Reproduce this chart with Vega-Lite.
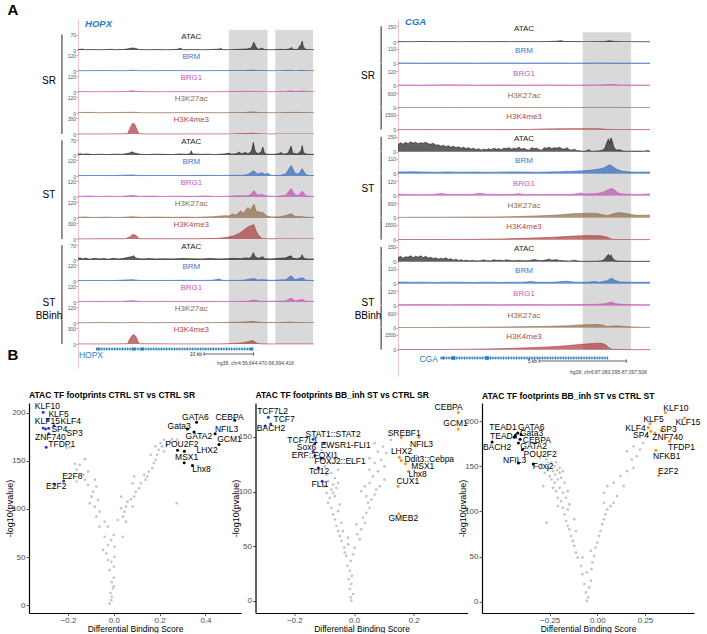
{
"$schema":"https://vega.github.io/schema/vega-lite/v6.json",
"background":"white",
"padding":{"top":3,"left":5,"right":2,"bottom":0},
"config":{
 "view":{"stroke":null},
 "font":"Liberation Sans",
 "axisY":{"labelFontSize":5,"labelColor":"#555555","tickSize":2,"tickColor":"#777777","tickWidth":0.6,"domainColor":"#f3c4c4","domainWidth":1,"grid":false,"labelPadding":0.5,"labelFlush":false,"format":"d"},
 "axisX":{"labelColor":"#4d4d4d","labelFontSize":8,"titleFontSize":8.5,"titleFontWeight":"normal","titleColor":"#000000","titlePadding":0,"domainColor":"#000000","domainWidth":1.2,"tickColor":"#333333","tickSize":2.5,"tickWidth":0.8,"labelPadding":0.5,"grid":false,"labelFlush":false}
},
"datasets":{
 "hl1":[{"s":63.9,"e":80.3},{"s":83.6,"e":99.6}],
 "hl2":[{"s":73.3,"e":92.5}],
 "hopx":[
{"t":"SA","x":0,"v":2},{"t":"SA","x":2,"v":4},{"t":"SA","x":3,"v":1},{"t":"SA","x":6,"v":2},{"t":"SA","x":10,"v":1},{"t":"SA","x":14,"v":3},{"t":"SA","x":16,"v":1},{"t":"SA","x":20,"v":3},{"t":"SA","x":22,"v":7},{"t":"SA","x":23,"v":9},{"t":"SA","x":24,"v":8},{"t":"SA","x":25,"v":5},{"t":"SA","x":26,"v":2},{"t":"SA","x":30,"v":1},{"t":"SA","x":34,"v":2},{"t":"SA","x":38,"v":1},{"t":"SA","x":42,"v":3},{"t":"SA","x":43.5,"v":8},{"t":"SA","x":44.5,"v":1},{"t":"SA","x":48,"v":2},{"t":"SA","x":52,"v":1},{"t":"SA","x":56,"v":2},{"t":"SA","x":60,"v":4},{"t":"SA","x":60.5,"v":9},{"t":"SA","x":61,"v":2},{"t":"SA","x":64,"v":1},{"t":"SA","x":68,"v":3},{"t":"SA","x":72,"v":5},{"t":"SA","x":73.5,"v":10},{"t":"SA","x":74.5,"v":35},{"t":"SA","x":75.5,"v":12},{"t":"SA","x":76.5,"v":3},{"t":"SA","x":78,"v":8},{"t":"SA","x":79,"v":2},{"t":"SA","x":82,"v":1},{"t":"SA","x":86,"v":3},{"t":"SA","x":88,"v":2},{"t":"SA","x":90,"v":6},{"t":"SA","x":90.5,"v":12},{"t":"SA","x":91,"v":3},{"t":"SA","x":93,"v":2},{"t":"SA","x":94.5,"v":25},{"t":"SA","x":95,"v":40},{"t":"SA","x":95.5,"v":15},{"t":"SA","x":96.5,"v":2},{"t":"SA","x":100,"v":1},
{"t":"SM","x":0,"v":2},{"t":"SM","x":10,"v":3},{"t":"SM","x":20,"v":2},{"t":"SM","x":23,"v":6},{"t":"SM","x":26,"v":2},{"t":"SM","x":40,"v":3},{"t":"SM","x":50,"v":2},{"t":"SM","x":60,"v":3},{"t":"SM","x":70,"v":3},{"t":"SM","x":74,"v":7},{"t":"SM","x":76,"v":3},{"t":"SM","x":85,"v":2},{"t":"SM","x":90,"v":6},{"t":"SM","x":92,"v":2},{"t":"SM","x":95,"v":5},{"t":"SM","x":97,"v":2},{"t":"SM","x":100,"v":2},
{"t":"SG","x":0,"v":3},{"t":"SG","x":10,"v":2},{"t":"SG","x":20,"v":3},{"t":"SG","x":23,"v":9},{"t":"SG","x":26,"v":3},{"t":"SG","x":35,"v":2},{"t":"SG","x":45,"v":3},{"t":"SG","x":55,"v":2},{"t":"SG","x":65,"v":3},{"t":"SG","x":74,"v":5},{"t":"SG","x":80,"v":2},{"t":"SG","x":88,"v":3},{"t":"SG","x":90,"v":9},{"t":"SG","x":92,"v":3},{"t":"SG","x":95,"v":8},{"t":"SG","x":97,"v":3},{"t":"SG","x":100,"v":2},
{"t":"SK","x":0,"v":2},{"t":"SK","x":4,"v":5},{"t":"SK","x":8,"v":2},{"t":"SK","x":15,"v":3},{"t":"SK","x":23,"v":6},{"t":"SK","x":27,"v":2},{"t":"SK","x":40,"v":2},{"t":"SK","x":50,"v":3},{"t":"SK","x":60,"v":2},{"t":"SK","x":70,"v":3},{"t":"SK","x":73,"v":8},{"t":"SK","x":75,"v":8},{"t":"SK","x":77,"v":3},{"t":"SK","x":85,"v":2},{"t":"SK","x":91,"v":5},{"t":"SK","x":95,"v":4},{"t":"SK","x":100,"v":2},
{"t":"SH","x":0,"v":1},{"t":"SH","x":15,"v":2},{"t":"SH","x":21,"v":5},{"t":"SH","x":22,"v":100},{"t":"SH","x":23,"v":200},{"t":"SH","x":24,"v":190},{"t":"SH","x":25,"v":80},{"t":"SH","x":25.8,"v":5},{"t":"SH","x":30,"v":1},{"t":"SH","x":50,"v":2},{"t":"SH","x":65,"v":2},{"t":"SH","x":70,"v":8},{"t":"SH","x":74,"v":14},{"t":"SH","x":77,"v":4},{"t":"SH","x":80,"v":1},{"t":"SH","x":100,"v":1},
{"t":"TA","x":0,"v":4},{"t":"TA","x":1,"v":6},{"t":"TA","x":2,"v":3},{"t":"TA","x":4,"v":5},{"t":"TA","x":6,"v":2},{"t":"TA","x":9,"v":4},{"t":"TA","x":12,"v":2},{"t":"TA","x":16,"v":4},{"t":"TA","x":19,"v":3},{"t":"TA","x":22,"v":10},{"t":"TA","x":23,"v":15},{"t":"TA","x":24,"v":9},{"t":"TA","x":26,"v":4},{"t":"TA","x":29,"v":2},{"t":"TA","x":33,"v":4},{"t":"TA","x":37,"v":3},{"t":"TA","x":40,"v":2},{"t":"TA","x":43,"v":5},{"t":"TA","x":46,"v":3},{"t":"TA","x":47.5,"v":6},{"t":"TA","x":48,"v":20},{"t":"TA","x":48.5,"v":5},{"t":"TA","x":52,"v":3},{"t":"TA","x":55,"v":4},{"t":"TA","x":58,"v":2},{"t":"TA","x":62,"v":5},{"t":"TA","x":64,"v":8},{"t":"TA","x":65,"v":4},{"t":"TA","x":67,"v":6},{"t":"TA","x":68.5,"v":14},{"t":"TA","x":69,"v":5},{"t":"TA","x":71,"v":12},{"t":"TA","x":72,"v":5},{"t":"TA","x":73.5,"v":18},{"t":"TA","x":74.3,"v":60},{"t":"TA","x":75,"v":20},{"t":"TA","x":76,"v":6},{"t":"TA","x":77.5,"v":12},{"t":"TA","x":78.3,"v":38},{"t":"TA","x":79,"v":8},{"t":"TA","x":80,"v":4},{"t":"TA","x":83,"v":3},{"t":"TA","x":85,"v":6},{"t":"TA","x":86,"v":12},{"t":"TA","x":87,"v":4},{"t":"TA","x":89,"v":8},{"t":"TA","x":90.3,"v":42},{"t":"TA","x":91,"v":8},{"t":"TA","x":93,"v":5},{"t":"TA","x":94.5,"v":20},{"t":"TA","x":95,"v":45},{"t":"TA","x":95.6,"v":10},{"t":"TA","x":97,"v":4},{"t":"TA","x":100,"v":2},
{"t":"TM","x":0,"v":3},{"t":"TM","x":10,"v":4},{"t":"TM","x":15,"v":3},{"t":"TM","x":23,"v":8},{"t":"TM","x":26,"v":3},{"t":"TM","x":35,"v":4},{"t":"TM","x":45,"v":3},{"t":"TM","x":52,"v":5},{"t":"TM","x":60,"v":4},{"t":"TM","x":66,"v":6},{"t":"TM","x":70,"v":5},{"t":"TM","x":72,"v":12},{"t":"TM","x":74.5,"v":40},{"t":"TM","x":76,"v":15},{"t":"TM","x":78,"v":25},{"t":"TM","x":79,"v":12},{"t":"TM","x":80.5,"v":20},{"t":"TM","x":82,"v":4},{"t":"TM","x":86,"v":5},{"t":"TM","x":88,"v":15},{"t":"TM","x":90.3,"v":80},{"t":"TM","x":92,"v":20},{"t":"TM","x":93.5,"v":15},{"t":"TM","x":95,"v":55},{"t":"TM","x":96.5,"v":10},{"t":"TM","x":98,"v":4},{"t":"TM","x":100,"v":3},
{"t":"TG","x":0,"v":4},{"t":"TG","x":5,"v":8},{"t":"TG","x":8,"v":4},{"t":"TG","x":14,"v":6},{"t":"TG","x":18,"v":4},{"t":"TG","x":23,"v":12},{"t":"TG","x":26,"v":5},{"t":"TG","x":32,"v":7},{"t":"TG","x":36,"v":4},{"t":"TG","x":42,"v":6},{"t":"TG","x":48,"v":5},{"t":"TG","x":54,"v":8},{"t":"TG","x":58,"v":4},{"t":"TG","x":64,"v":6},{"t":"TG","x":68,"v":10},{"t":"TG","x":71,"v":8},{"t":"TG","x":73,"v":15},{"t":"TG","x":74.5,"v":48},{"t":"TG","x":76,"v":15},{"t":"TG","x":78,"v":18},{"t":"TG","x":80,"v":8},{"t":"TG","x":84,"v":5},{"t":"TG","x":88,"v":12},{"t":"TG","x":90.3,"v":65},{"t":"TG","x":92,"v":15},{"t":"TG","x":93.5,"v":12},{"t":"TG","x":95,"v":45},{"t":"TG","x":96.5,"v":10},{"t":"TG","x":98,"v":5},{"t":"TG","x":100,"v":4},
{"t":"TK","x":0,"v":5},{"t":"TK","x":3,"v":8},{"t":"TK","x":6,"v":4},{"t":"TK","x":12,"v":6},{"t":"TK","x":17,"v":4},{"t":"TK","x":23,"v":9},{"t":"TK","x":27,"v":5},{"t":"TK","x":33,"v":7},{"t":"TK","x":40,"v":5},{"t":"TK","x":46,"v":7},{"t":"TK","x":50,"v":5},{"t":"TK","x":54,"v":8},{"t":"TK","x":57,"v":10},{"t":"TK","x":60,"v":14},{"t":"TK","x":62.5,"v":18},{"t":"TK","x":64,"v":15},{"t":"TK","x":65.5,"v":30},{"t":"TK","x":67,"v":22},{"t":"TK","x":69,"v":55},{"t":"TK","x":70,"v":35},{"t":"TK","x":72,"v":80},{"t":"TK","x":73,"v":60},{"t":"TK","x":74.6,"v":105},{"t":"TK","x":75.5,"v":50},{"t":"TK","x":77,"v":45},{"t":"TK","x":78.5,"v":40},{"t":"TK","x":80,"v":15},{"t":"TK","x":82,"v":8},{"t":"TK","x":86,"v":10},{"t":"TK","x":88,"v":20},{"t":"TK","x":90.3,"v":32},{"t":"TK","x":92,"v":12},{"t":"TK","x":95,"v":10},{"t":"TK","x":97,"v":5},{"t":"TK","x":100,"v":4},
{"t":"TH","x":0,"v":2},{"t":"TH","x":10,"v":3},{"t":"TH","x":20,"v":4},{"t":"TH","x":22,"v":40},{"t":"TH","x":23,"v":85},{"t":"TH","x":24.5,"v":70},{"t":"TH","x":26,"v":5},{"t":"TH","x":35,"v":3},{"t":"TH","x":50,"v":4},{"t":"TH","x":55,"v":8},{"t":"TH","x":60,"v":15},{"t":"TH","x":63,"v":30},{"t":"TH","x":66,"v":60},{"t":"TH","x":68,"v":100},{"t":"TH","x":70,"v":160},{"t":"TH","x":72,"v":230},{"t":"TH","x":74.5,"v":275},{"t":"TH","x":75.5,"v":150},{"t":"TH","x":76.5,"v":70},{"t":"TH","x":78,"v":10},{"t":"TH","x":80,"v":3},{"t":"TH","x":100,"v":2},
{"t":"BA","x":0,"v":8},{"t":"BA","x":1,"v":10},{"t":"BA","x":2,"v":5},{"t":"BA","x":3,"v":9},{"t":"BA","x":5,"v":4},{"t":"BA","x":7,"v":8},{"t":"BA","x":9,"v":5},{"t":"BA","x":11,"v":7},{"t":"BA","x":13,"v":4},{"t":"BA","x":15,"v":8},{"t":"BA","x":17,"v":5},{"t":"BA","x":19,"v":7},{"t":"BA","x":21,"v":12},{"t":"BA","x":22.5,"v":15},{"t":"BA","x":23.5,"v":20},{"t":"BA","x":24.5,"v":10},{"t":"BA","x":26,"v":6},{"t":"BA","x":28,"v":5},{"t":"BA","x":30,"v":7},{"t":"BA","x":33,"v":5},{"t":"BA","x":36,"v":6},{"t":"BA","x":40,"v":5},{"t":"BA","x":44,"v":7},{"t":"BA","x":48,"v":6},{"t":"BA","x":52,"v":5},{"t":"BA","x":56,"v":7},{"t":"BA","x":60,"v":5},{"t":"BA","x":63,"v":6},{"t":"BA","x":66,"v":8},{"t":"BA","x":69,"v":6},{"t":"BA","x":71,"v":10},{"t":"BA","x":72.5,"v":8},{"t":"BA","x":73.5,"v":15},{"t":"BA","x":74.3,"v":35},{"t":"BA","x":75,"v":15},{"t":"BA","x":76.5,"v":8},{"t":"BA","x":77.5,"v":12},{"t":"BA","x":78.3,"v":16},{"t":"BA","x":79,"v":6},{"t":"BA","x":82,"v":5},{"t":"BA","x":85,"v":8},{"t":"BA","x":88,"v":10},{"t":"BA","x":89,"v":15},{"t":"BA","x":90.3,"v":20},{"t":"BA","x":91,"v":8},{"t":"BA","x":93,"v":6},{"t":"BA","x":94.5,"v":12},{"t":"BA","x":95,"v":25},{"t":"BA","x":95.6,"v":8},{"t":"BA","x":97,"v":5},{"t":"BA","x":100,"v":4},
{"t":"BM","x":0,"v":3},{"t":"BM","x":8,"v":4},{"t":"BM","x":14,"v":3},{"t":"BM","x":23,"v":10},{"t":"BM","x":27,"v":3},{"t":"BM","x":35,"v":4},{"t":"BM","x":45,"v":5},{"t":"BM","x":52,"v":4},{"t":"BM","x":57,"v":6},{"t":"BM","x":60,"v":15},{"t":"BM","x":61,"v":5},{"t":"BM","x":66,"v":4},{"t":"BM","x":70,"v":6},{"t":"BM","x":74.5,"v":20},{"t":"BM","x":76,"v":8},{"t":"BM","x":78,"v":10},{"t":"BM","x":82,"v":5},{"t":"BM","x":88,"v":10},{"t":"BM","x":90.3,"v":40},{"t":"BM","x":92,"v":10},{"t":"BM","x":95,"v":25},{"t":"BM","x":96.5,"v":6},{"t":"BM","x":100,"v":3},
{"t":"BG","x":0,"v":4},{"t":"BG","x":10,"v":5},{"t":"BG","x":18,"v":4},{"t":"BG","x":23,"v":10},{"t":"BG","x":27,"v":4},{"t":"BG","x":35,"v":5},{"t":"BG","x":45,"v":4},{"t":"BG","x":55,"v":5},{"t":"BG","x":65,"v":4},{"t":"BG","x":72,"v":6},{"t":"BG","x":74.5,"v":15},{"t":"BG","x":77,"v":6},{"t":"BG","x":82,"v":5},{"t":"BG","x":88,"v":8},{"t":"BG","x":90.3,"v":30},{"t":"BG","x":92,"v":8},{"t":"BG","x":95,"v":20},{"t":"BG","x":96.5,"v":6},{"t":"BG","x":100,"v":4},
{"t":"BK","x":0,"v":2},{"t":"BK","x":10,"v":3},{"t":"BK","x":20,"v":2},{"t":"BK","x":23,"v":4},{"t":"BK","x":30,"v":2},{"t":"BK","x":40,"v":3},{"t":"BK","x":50,"v":2},{"t":"BK","x":60,"v":3},{"t":"BK","x":66,"v":5},{"t":"BK","x":70,"v":8},{"t":"BK","x":72,"v":10},{"t":"BK","x":74,"v":13},{"t":"BK","x":76,"v":8},{"t":"BK","x":78,"v":4},{"t":"BK","x":85,"v":3},{"t":"BK","x":88,"v":5},{"t":"BK","x":90,"v":8},{"t":"BK","x":92,"v":4},{"t":"BK","x":95,"v":3},{"t":"BK","x":100,"v":2},
{"t":"BH","x":0,"v":1},{"t":"BH","x":15,"v":2},{"t":"BH","x":21,"v":5},{"t":"BH","x":22,"v":100},{"t":"BH","x":23.3,"v":180},{"t":"BH","x":24.5,"v":150},{"t":"BH","x":25.5,"v":40},{"t":"BH","x":26,"v":5},{"t":"BH","x":40,"v":2},{"t":"BH","x":60,"v":2},{"t":"BH","x":66,"v":8},{"t":"BH","x":69,"v":20},{"t":"BH","x":71,"v":35},{"t":"BH","x":73,"v":55},{"t":"BH","x":74,"v":67},{"t":"BH","x":75,"v":40},{"t":"BH","x":76,"v":8},{"t":"BH","x":78,"v":2},{"t":"BH","x":100,"v":1}
 ],
 "cga":[
{"t":"SA","x":0,"v":4},{"t":"SA","x":5,"v":3},{"t":"SA","x":10,"v":5},{"t":"SA","x":15,"v":3},{"t":"SA","x":20,"v":4},{"t":"SA","x":25,"v":3},{"t":"SA","x":30,"v":4},{"t":"SA","x":35,"v":3},{"t":"SA","x":40,"v":4},{"t":"SA","x":45,"v":3},{"t":"SA","x":50,"v":4},{"t":"SA","x":55,"v":3},{"t":"SA","x":60,"v":5},{"t":"SA","x":63,"v":8},{"t":"SA","x":64.7,"v":12},{"t":"SA","x":66,"v":5},{"t":"SA","x":70,"v":4},{"t":"SA","x":74,"v":2},{"t":"SA","x":78,"v":3},{"t":"SA","x":82,"v":5},{"t":"SA","x":84,"v":12},{"t":"SA","x":86,"v":4},{"t":"SA","x":90,"v":2},{"t":"SA","x":95,"v":3},{"t":"SA","x":100,"v":2},
{"t":"SM","x":0,"v":5},{"t":"SM","x":10,"v":4},{"t":"SM","x":20,"v":5},{"t":"SM","x":30,"v":4},{"t":"SM","x":40,"v":5},{"t":"SM","x":50,"v":4},{"t":"SM","x":60,"v":5},{"t":"SM","x":70,"v":4},{"t":"SM","x":80,"v":5},{"t":"SM","x":90,"v":4},{"t":"SM","x":100,"v":4},
{"t":"SG","x":0,"v":6},{"t":"SG","x":10,"v":5},{"t":"SG","x":20,"v":7},{"t":"SG","x":30,"v":5},{"t":"SG","x":40,"v":6},{"t":"SG","x":50,"v":5},{"t":"SG","x":60,"v":6},{"t":"SG","x":70,"v":5},{"t":"SG","x":80,"v":6},{"t":"SG","x":84,"v":10},{"t":"SG","x":88,"v":6},{"t":"SG","x":100,"v":5},
{"t":"SK","x":0,"v":5},{"t":"SK","x":10,"v":8},{"t":"SK","x":20,"v":5},{"t":"SK","x":30,"v":6},{"t":"SK","x":40,"v":8},{"t":"SK","x":50,"v":5},{"t":"SK","x":60,"v":6},{"t":"SK","x":70,"v":5},{"t":"SK","x":80,"v":10},{"t":"SK","x":90,"v":5},{"t":"SK","x":100,"v":4},
{"t":"SH","x":0,"v":3},{"t":"SH","x":45,"v":5},{"t":"SH","x":52,"v":20},{"t":"SH","x":58,"v":70},{"t":"SH","x":65,"v":90},{"t":"SH","x":72,"v":100},{"t":"SH","x":80,"v":95},{"t":"SH","x":83,"v":30},{"t":"SH","x":86,"v":5},{"t":"SH","x":100,"v":3},
{"t":"TA","x":0,"v":70},{"t":"TA","x":1,"v":90},{"t":"TA","x":2,"v":75},{"t":"TA","x":3,"v":95},{"t":"TA","x":4,"v":80},{"t":"TA","x":5,"v":100},{"t":"TA","x":6,"v":85},{"t":"TA","x":7,"v":95},{"t":"TA","x":8,"v":80},{"t":"TA","x":9,"v":90},{"t":"TA","x":10,"v":85},{"t":"TA","x":11,"v":95},{"t":"TA","x":12,"v":80},{"t":"TA","x":13,"v":75},{"t":"TA","x":14,"v":85},{"t":"TA","x":15,"v":65},{"t":"TA","x":16,"v":70},{"t":"TA","x":17,"v":55},{"t":"TA","x":18,"v":65},{"t":"TA","x":19,"v":50},{"t":"TA","x":20,"v":60},{"t":"TA","x":21,"v":45},{"t":"TA","x":22,"v":55},{"t":"TA","x":23,"v":40},{"t":"TA","x":24,"v":50},{"t":"TA","x":25,"v":35},{"t":"TA","x":26,"v":45},{"t":"TA","x":27,"v":30},{"t":"TA","x":28,"v":40},{"t":"TA","x":29,"v":25},{"t":"TA","x":30,"v":35},{"t":"TA","x":31,"v":20},{"t":"TA","x":32,"v":30},{"t":"TA","x":33,"v":15},{"t":"TA","x":34,"v":25},{"t":"TA","x":35,"v":18},{"t":"TA","x":36,"v":30},{"t":"TA","x":37,"v":20},{"t":"TA","x":38,"v":35},{"t":"TA","x":39,"v":25},{"t":"TA","x":40,"v":30},{"t":"TA","x":41,"v":20},{"t":"TA","x":42,"v":35},{"t":"TA","x":43,"v":30},{"t":"TA","x":44,"v":40},{"t":"TA","x":45,"v":25},{"t":"TA","x":46,"v":35},{"t":"TA","x":47,"v":30},{"t":"TA","x":48,"v":45},{"t":"TA","x":49,"v":25},{"t":"TA","x":50,"v":35},{"t":"TA","x":51,"v":20},{"t":"TA","x":52,"v":15},{"t":"TA","x":53,"v":40},{"t":"TA","x":54,"v":30},{"t":"TA","x":55,"v":35},{"t":"TA","x":56,"v":20},{"t":"TA","x":57,"v":15},{"t":"TA","x":58,"v":40},{"t":"TA","x":59,"v":35},{"t":"TA","x":60,"v":45},{"t":"TA","x":61,"v":30},{"t":"TA","x":62,"v":40},{"t":"TA","x":63,"v":35},{"t":"TA","x":64,"v":45},{"t":"TA","x":65,"v":30},{"t":"TA","x":66,"v":25},{"t":"TA","x":67,"v":40},{"t":"TA","x":68,"v":20},{"t":"TA","x":69,"v":15},{"t":"TA","x":70,"v":25},{"t":"TA","x":71,"v":10},{"t":"TA","x":72,"v":8},{"t":"TA","x":73,"v":5},{"t":"TA","x":74,"v":3},{"t":"TA","x":76,"v":20},{"t":"TA","x":76.5,"v":3},{"t":"TA","x":78,"v":5},{"t":"TA","x":80,"v":8},{"t":"TA","x":81,"v":15},{"t":"TA","x":82,"v":30},{"t":"TA","x":83,"v":100},{"t":"TA","x":83.5,"v":130},{"t":"TA","x":84,"v":90},{"t":"TA","x":84.5,"v":140},{"t":"TA","x":85,"v":110},{"t":"TA","x":85.5,"v":60},{"t":"TA","x":86,"v":30},{"t":"TA","x":87,"v":15},{"t":"TA","x":88,"v":20},{"t":"TA","x":89,"v":8},{"t":"TA","x":90,"v":5},{"t":"TA","x":92,"v":4},{"t":"TA","x":95,"v":6},{"t":"TA","x":98,"v":5},{"t":"TA","x":99,"v":12},{"t":"TA","x":100,"v":4},
{"t":"TM","x":0,"v":12},{"t":"TM","x":5,"v":14},{"t":"TM","x":10,"v":12},{"t":"TM","x":15,"v":10},{"t":"TM","x":20,"v":13},{"t":"TM","x":25,"v":10},{"t":"TM","x":30,"v":12},{"t":"TM","x":35,"v":10},{"t":"TM","x":40,"v":11},{"t":"TM","x":45,"v":13},{"t":"TM","x":50,"v":12},{"t":"TM","x":55,"v":10},{"t":"TM","x":60,"v":12},{"t":"TM","x":65,"v":14},{"t":"TM","x":70,"v":18},{"t":"TM","x":74,"v":22},{"t":"TM","x":78,"v":28},{"t":"TM","x":81,"v":38},{"t":"TM","x":83,"v":55},{"t":"TM","x":84,"v":66},{"t":"TM","x":85,"v":55},{"t":"TM","x":87,"v":30},{"t":"TM","x":89,"v":18},{"t":"TM","x":92,"v":12},{"t":"TM","x":95,"v":11},{"t":"TM","x":100,"v":12},
{"t":"TG","x":0,"v":12},{"t":"TG","x":5,"v":10},{"t":"TG","x":10,"v":8},{"t":"TG","x":14,"v":10},{"t":"TG","x":17,"v":18},{"t":"TG","x":20,"v":10},{"t":"TG","x":25,"v":9},{"t":"TG","x":30,"v":12},{"t":"TG","x":32.6,"v":20},{"t":"TG","x":35,"v":12},{"t":"TG","x":40,"v":9},{"t":"TG","x":45,"v":10},{"t":"TG","x":48,"v":16},{"t":"TG","x":50,"v":10},{"t":"TG","x":55,"v":9},{"t":"TG","x":60,"v":10},{"t":"TG","x":65,"v":9},{"t":"TG","x":70,"v":12},{"t":"TG","x":72.5,"v":22},{"t":"TG","x":74,"v":14},{"t":"TG","x":78,"v":15},{"t":"TG","x":81,"v":25},{"t":"TG","x":83,"v":45},{"t":"TG","x":84.7,"v":60},{"t":"TG","x":86,"v":45},{"t":"TG","x":87.5,"v":20},{"t":"TG","x":90,"v":12},{"t":"TG","x":95,"v":10},{"t":"TG","x":100,"v":14},
{"t":"TK","x":0,"v":10},{"t":"TK","x":10,"v":15},{"t":"TK","x":20,"v":20},{"t":"TK","x":30,"v":25},{"t":"TK","x":40,"v":30},{"t":"TK","x":45,"v":40},{"t":"TK","x":50,"v":55},{"t":"TK","x":55,"v":70},{"t":"TK","x":60,"v":90},{"t":"TK","x":65,"v":120},{"t":"TK","x":68,"v":150},{"t":"TK","x":70,"v":165},{"t":"TK","x":73,"v":175},{"t":"TK","x":76,"v":185},{"t":"TK","x":79,"v":175},{"t":"TK","x":81,"v":120},{"t":"TK","x":83,"v":80},{"t":"TK","x":85,"v":150},{"t":"TK","x":87.5,"v":210},{"t":"TK","x":90,"v":180},{"t":"TK","x":93,"v":120},{"t":"TK","x":95,"v":95},{"t":"TK","x":100,"v":100},
{"t":"TH","x":0,"v":10},{"t":"TH","x":20,"v":15},{"t":"TH","x":30,"v":30},{"t":"TH","x":40,"v":60},{"t":"TH","x":50,"v":130},{"t":"TH","x":60,"v":220},{"t":"TH","x":65,"v":290},{"t":"TH","x":70,"v":360},{"t":"TH","x":73,"v":390},{"t":"TH","x":76,"v":410},{"t":"TH","x":79,"v":400},{"t":"TH","x":81,"v":370},{"t":"TH","x":83,"v":250},{"t":"TH","x":84.5,"v":60},{"t":"TH","x":86,"v":15},{"t":"TH","x":90,"v":5},{"t":"TH","x":100,"v":5},
{"t":"BA","x":0,"v":40},{"t":"BA","x":1,"v":55},{"t":"BA","x":2,"v":35},{"t":"BA","x":3,"v":50},{"t":"BA","x":4,"v":45},{"t":"BA","x":5,"v":60},{"t":"BA","x":6,"v":40},{"t":"BA","x":7,"v":55},{"t":"BA","x":8,"v":45},{"t":"BA","x":9,"v":60},{"t":"BA","x":10,"v":40},{"t":"BA","x":11,"v":55},{"t":"BA","x":12,"v":35},{"t":"BA","x":13,"v":45},{"t":"BA","x":14,"v":30},{"t":"BA","x":15,"v":40},{"t":"BA","x":16,"v":25},{"t":"BA","x":17,"v":35},{"t":"BA","x":18,"v":28},{"t":"BA","x":19,"v":40},{"t":"BA","x":20,"v":22},{"t":"BA","x":21,"v":30},{"t":"BA","x":22,"v":15},{"t":"BA","x":23,"v":25},{"t":"BA","x":24,"v":12},{"t":"BA","x":25,"v":18},{"t":"BA","x":26,"v":10},{"t":"BA","x":27,"v":15},{"t":"BA","x":28,"v":8},{"t":"BA","x":30,"v":12},{"t":"BA","x":31,"v":6},{"t":"BA","x":33,"v":10},{"t":"BA","x":34,"v":18},{"t":"BA","x":35,"v":10},{"t":"BA","x":37,"v":8},{"t":"BA","x":38,"v":20},{"t":"BA","x":39,"v":12},{"t":"BA","x":40,"v":15},{"t":"BA","x":42,"v":10},{"t":"BA","x":43,"v":20},{"t":"BA","x":44,"v":12},{"t":"BA","x":46,"v":8},{"t":"BA","x":48,"v":12},{"t":"BA","x":50,"v":8},{"t":"BA","x":52,"v":10},{"t":"BA","x":54,"v":22},{"t":"BA","x":55,"v":15},{"t":"BA","x":57,"v":10},{"t":"BA","x":59,"v":18},{"t":"BA","x":60,"v":25},{"t":"BA","x":61,"v":15},{"t":"BA","x":63,"v":20},{"t":"BA","x":64,"v":12},{"t":"BA","x":66,"v":8},{"t":"BA","x":68,"v":5},{"t":"BA","x":70,"v":15},{"t":"BA","x":71,"v":8},{"t":"BA","x":72,"v":4},{"t":"BA","x":74,"v":3},{"t":"BA","x":78,"v":4},{"t":"BA","x":80,"v":6},{"t":"BA","x":81,"v":10},{"t":"BA","x":82,"v":25},{"t":"BA","x":83,"v":60},{"t":"BA","x":83.5,"v":75},{"t":"BA","x":84,"v":50},{"t":"BA","x":84.5,"v":70},{"t":"BA","x":85,"v":40},{"t":"BA","x":86,"v":15},{"t":"BA","x":87,"v":6},{"t":"BA","x":90,"v":4},{"t":"BA","x":95,"v":3},{"t":"BA","x":100,"v":4},
{"t":"BM","x":0,"v":12},{"t":"BM","x":5,"v":10},{"t":"BM","x":10,"v":11},{"t":"BM","x":15,"v":9},{"t":"BM","x":20,"v":11},{"t":"BM","x":25,"v":10},{"t":"BM","x":30,"v":9},{"t":"BM","x":35,"v":11},{"t":"BM","x":40,"v":9},{"t":"BM","x":45,"v":10},{"t":"BM","x":50,"v":11},{"t":"BM","x":53,"v":16},{"t":"BM","x":55,"v":10},{"t":"BM","x":60,"v":10},{"t":"BM","x":63,"v":12},{"t":"BM","x":67,"v":18},{"t":"BM","x":70,"v":11},{"t":"BM","x":75,"v":10},{"t":"BM","x":78,"v":15},{"t":"BM","x":80,"v":10},{"t":"BM","x":83,"v":22},{"t":"BM","x":84.7,"v":40},{"t":"BM","x":86,"v":25},{"t":"BM","x":88,"v":12},{"t":"BM","x":92,"v":10},{"t":"BM","x":100,"v":10},
{"t":"BG","x":0,"v":8},{"t":"BG","x":10,"v":10},{"t":"BG","x":20,"v":8},{"t":"BG","x":30,"v":10},{"t":"BG","x":40,"v":8},{"t":"BG","x":50,"v":9},{"t":"BG","x":60,"v":8},{"t":"BG","x":70,"v":9},{"t":"BG","x":78,"v":10},{"t":"BG","x":82,"v":15},{"t":"BG","x":84.7,"v":30},{"t":"BG","x":86.5,"v":15},{"t":"BG","x":90,"v":9},{"t":"BG","x":100,"v":8},
{"t":"BK","x":0,"v":5},{"t":"BK","x":10,"v":8},{"t":"BK","x":20,"v":12},{"t":"BK","x":30,"v":15},{"t":"BK","x":40,"v":25},{"t":"BK","x":50,"v":40},{"t":"BK","x":60,"v":55},{"t":"BK","x":68,"v":80},{"t":"BK","x":72,"v":110},{"t":"BK","x":76,"v":125},{"t":"BK","x":79,"v":130},{"t":"BK","x":81,"v":110},{"t":"BK","x":83,"v":45},{"t":"BK","x":85,"v":70},{"t":"BK","x":87,"v":75},{"t":"BK","x":90,"v":50},{"t":"BK","x":93,"v":25},{"t":"BK","x":96,"v":15},{"t":"BK","x":100,"v":10},
{"t":"BH","x":0,"v":5},{"t":"BH","x":20,"v":20},{"t":"BH","x":30,"v":45},{"t":"BH","x":40,"v":90},{"t":"BH","x":50,"v":170},{"t":"BH","x":60,"v":280},{"t":"BH","x":67,"v":400},{"t":"BH","x":72,"v":520},{"t":"BH","x":76,"v":600},{"t":"BH","x":79,"v":650},{"t":"BH","x":81,"v":640},{"t":"BH","x":82.5,"v":480},{"t":"BH","x":84,"v":120},{"t":"BH","x":85.5,"v":15},{"t":"BH","x":90,"v":5},{"t":"BH","x":100,"v":3}
 ],
 "v1":[
{"x":-0.019,"y":1.7,"g":"ns"},{"x":-0.011,"y":5.2,"g":"ns"},{"x":-0.009,"y":8.7,"g":"ns"},{"x":-0.014,"y":12.8,"g":"ns"},{"x":-0.004,"y":17.4,"g":"ns"},{"x":0.0,"y":19.8,"g":"ns"},{"x":-0.009,"y":24.3,"g":"ns"},{"x":0.0,"y":28.8,"g":"ns"},{"x":-0.019,"y":36.5,"g":"ns"},{"x":0.0,"y":39.9,"g":"ns"},{"x":-0.011,"y":45.1,"g":"ns"},{"x":-0.026,"y":46.9,"g":"ns"},{"x":0.003,"y":50.3,"g":"ns"},{"x":-0.033,"y":53.8,"g":"ns"},{"x":-0.047,"y":57.3,"g":"ns"},{"x":-0.026,"y":62.5,"g":"ns"},{"x":-0.011,"y":67.7,"g":"ns"},{"x":-0.04,"y":71.2,"g":"ns"},{"x":0.0,"y":72.9,"g":"ns"},{"x":-0.026,"y":81.6,"g":"ns"},{"x":-0.062,"y":81.6,"g":"ns"},{"x":-0.04,"y":86.8,"g":"ns"},{"x":0.017,"y":88.5,"g":"ns"},{"x":0.039,"y":92,"g":"ns"},{"x":-0.076,"y":92,"g":"ns"},{"x":-0.062,"y":97.2,"g":"ns"},{"x":0.046,"y":97.2,"g":"ns"},{"x":0.032,"y":100.7,"g":"ns"},{"x":0.053,"y":102.4,"g":"ns"},{"x":-0.083,"y":102.4,"g":"ns"},{"x":-0.105,"y":105.9,"g":"ns"},{"x":-0.069,"y":109.4,"g":"ns"},{"x":0.06,"y":107.6,"g":"ns"},{"x":0.075,"y":110.1,"g":"ns"},{"x":-0.097,"y":112.8,"g":"ns"},{"x":0.089,"y":112.8,"g":"ns"},{"x":0.032,"y":112.8,"g":"ns"},{"x":-0.09,"y":118,"g":"ns"},{"x":-0.076,"y":123.3,"g":"ns"},{"x":0.096,"y":118,"g":"ns"},{"x":0.11,"y":121.5,"g":"ns"},{"x":0.082,"y":126.7,"g":"ns"},{"x":-0.112,"y":125,"g":"ns"},{"x":-0.126,"y":130.2,"g":"ns"},{"x":-0.083,"y":130.2,"g":"ns"},{"x":0.118,"y":126.7,"g":"ns"},{"x":0.089,"y":133.7,"g":"ns"},{"x":0.139,"y":130.2,"g":"ns"},{"x":0.132,"y":135.4,"g":"ns"},{"x":-0.133,"y":135.4,"g":"ns"},{"x":-0.112,"y":138.9,"g":"ns"},{"x":0.153,"y":138.9,"g":"ns"},{"x":0.168,"y":142.4,"g":"ns"},{"x":-0.162,"y":140.6,"g":"ns"},{"x":-0.148,"y":145.8,"g":"ns"},{"x":0.175,"y":147.6,"g":"ns"},{"x":0.182,"y":151,"g":"ns"},{"x":-0.169,"y":146.9,"g":"ns"},{"x":-0.126,"y":151.7,"g":"ns"},{"x":0.189,"y":156.3,"g":"ns"},{"x":0.161,"y":156.3,"g":"ns"},{"x":0.196,"y":161.5,"g":"ns"},{"x":0.211,"y":164.9,"g":"ns"},{"x":0.232,"y":166.7,"g":"ns"},{"x":0.247,"y":170.1,"g":"ns"},{"x":0.218,"y":171.9,"g":"ns"},{"x":0.254,"y":172.6,"g":"ns"},{"x":0.275,"y":171.9,"g":"ns"},{"x":-0.205,"y":163.2,"g":"ns"},{"x":-0.191,"y":163.9,"g":"ns"},{"x":-0.162,"y":128.5,"g":"ns"},{"x":0.039,"y":71.2,"g":"ns"},{"x":0.003,"y":60.8,"g":"ns"},{"x":0.053,"y":86.8,"g":"ns"},{"x":0.082,"y":102.4,"g":"ns"},{"x":0.275,"y":105.9,"g":"ns"},{"x":0.204,"y":168.4,"g":"ns"},{"x":0.146,"y":133.7,"g":"ns"},{"x":0.218,"y":159.7,"g":"ns"},{"x":0.182,"y":164.9,"g":"ns"},
{"x":-0.308,"y":200.5,"g":"blue","lab":"KLF10","lx":-0.29,"ly":206.6},
{"x":-0.287,"y":192.7,"g":"blue","lab":"KLF5","lx":-0.241,"ly":199},
{"x":-0.261,"y":186.5,"g":"blue","lab":"KLF4","lx":-0.188,"ly":191.7},
{"x":-0.308,"y":184,"g":"blue","lab":"KLF15","lx":-0.29,"ly":191},
{"x":-0.284,"y":183.7,"g":"blue","lab":"SP4","lx":-0.237,"ly":183},
{"x":-0.298,"y":183,"g":"blue","lab":"SP3","lx":-0.171,"ly":178.8},
{"x":-0.284,"y":178,"g":"blue","lab":"ZNF740","lx":-0.277,"ly":175},
{"x":-0.295,"y":164,"g":"blue","lab":"TFDP1","lx":-0.227,"ly":167.7},
{"x":-0.219,"y":129,"g":"blue","lab":"E2F8","lx":-0.181,"ly":134.7},
{"x":-0.26,"y":126,"g":"blue","lab":"E2F2","lx":-0.251,"ly":124.3},
{"x":0.361,"y":190,"g":"black","lab":"GATA6","lx":0.356,"ly":195.5},
{"x":0.528,"y":192,"g":"black","lab":"CEBPA","lx":0.505,"ly":195.5},
{"x":0.321,"y":183,"g":"black","lab":"Gata3","lx":0.285,"ly":185.8},
{"x":0.442,"y":178,"g":"black","lab":"NFIL3","lx":0.492,"ly":183},
{"x":0.35,"y":180,"g":"black","lab":"GATA2","lx":0.371,"ly":175.3},
{"x":0.459,"y":167,"g":"black","lab":"GCM1","lx":0.505,"ly":173},
{"x":0.278,"y":161,"g":"black","lab":"POU2F2","lx":0.297,"ly":167.4},
{"x":0.308,"y":160,"g":"black","lab":"LHX2","lx":0.407,"ly":161.5},
{"x":0.307,"y":148,"g":"black","lab":"MSX1","lx":0.318,"ly":153.8},
{"x":0.343,"y":145,"g":"black","lab":"Lhx8","lx":0.383,"ly":141.7}
 ],
 "v2":[
{"x":-0.009,"y":0.3,"g":"ns"},{"x":-0.011,"y":3.3,"g":"ns"},{"x":-0.003,"y":6.4,"g":"ns"},{"x":-0.014,"y":10.9,"g":"ns"},{"x":-0.009,"y":15.5,"g":"ns"},{"x":-0.018,"y":20,"g":"ns"},{"x":-0.007,"y":23,"g":"ns"},{"x":-0.014,"y":27.6,"g":"ns"},{"x":-0.022,"y":32.1,"g":"ns"},{"x":-0.011,"y":36.7,"g":"ns"},{"x":-0.026,"y":41.2,"g":"ns"},{"x":-0.031,"y":44.2,"g":"ns"},{"x":-0.003,"y":42.7,"g":"ns"},{"x":-0.033,"y":48.8,"g":"ns"},{"x":-0.02,"y":51.8,"g":"ns"},{"x":-0.042,"y":54.8,"g":"ns"},{"x":0.019,"y":56.4,"g":"ns"},{"x":0.011,"y":60.9,"g":"ns"},{"x":-0.048,"y":59.4,"g":"ns"},{"x":-0.053,"y":63.9,"g":"ns"},{"x":0.024,"y":65.5,"g":"ns"},{"x":-0.059,"y":68.5,"g":"ns"},{"x":-0.042,"y":71.5,"g":"ns"},{"x":0.036,"y":71.5,"g":"ns"},{"x":0.03,"y":76.1,"g":"ns"},{"x":-0.064,"y":74.5,"g":"ns"},{"x":-0.07,"y":79.1,"g":"ns"},{"x":-0.053,"y":82.1,"g":"ns"},{"x":0.041,"y":80.6,"g":"ns"},{"x":0.052,"y":85.2,"g":"ns"},{"x":-0.076,"y":85.2,"g":"ns"},{"x":-0.048,"y":88.2,"g":"ns"},{"x":-0.087,"y":89.7,"g":"ns"},{"x":0.047,"y":89.7,"g":"ns"},{"x":0.058,"y":92.7,"g":"ns"},{"x":-0.081,"y":94.2,"g":"ns"},{"x":-0.064,"y":95.8,"g":"ns"},{"x":0.041,"y":95.8,"g":"ns"},{"x":0.069,"y":97.3,"g":"ns"},{"x":-0.092,"y":98.8,"g":"ns"},{"x":-0.076,"y":101.8,"g":"ns"},{"x":-0.059,"y":103.3,"g":"ns"},{"x":0.024,"y":100.3,"g":"ns"},{"x":0.074,"y":101.8,"g":"ns"},{"x":-0.098,"y":104.8,"g":"ns"},{"x":-0.07,"y":106.4,"g":"ns"},{"x":0.036,"y":104.8,"g":"ns"},{"x":0.086,"y":104.8,"g":"ns"},{"x":0.052,"y":107.9,"g":"ns"},{"x":-0.087,"y":109.4,"g":"ns"},{"x":-0.064,"y":112.4,"g":"ns"},{"x":0.102,"y":110.9,"g":"ns"},{"x":0.063,"y":113.9,"g":"ns"},{"x":-0.092,"y":115.5,"g":"ns"},{"x":-0.076,"y":117,"g":"ns"},{"x":0.08,"y":118.5,"g":"ns"},{"x":0.052,"y":120,"g":"ns"},{"x":-0.053,"y":120,"g":"ns"},{"x":0.102,"y":123,"g":"ns"},{"x":-0.098,"y":123,"g":"ns"},{"x":-0.081,"y":126.1,"g":"ns"},{"x":0.069,"y":126.1,"g":"ns"},{"x":0.091,"y":129.1,"g":"ns"},{"x":-0.103,"y":129.1,"g":"ns"},{"x":0.052,"y":130.6,"g":"ns"},{"x":0.108,"y":135.2,"g":"ns"},{"x":0.08,"y":136.7,"g":"ns"},{"x":-0.087,"y":132.1,"g":"ns"},{"x":0.097,"y":141.2,"g":"ns"},{"x":0.069,"y":144.2,"g":"ns"},{"x":0.124,"y":147.3,"g":"ns"},{"x":-0.109,"y":138.2,"g":"ns"},{"x":-0.07,"y":98.8,"g":"ns"},{"x":0.008,"y":70,"g":"ns"},{"x":-0.02,"y":57.9,"g":"ns"},{"x":0.002,"y":48.8,"g":"ns"},{"x":-0.037,"y":63.9,"g":"ns"},{"x":-0.103,"y":104.8,"g":"ns"},{"x":-0.053,"y":107.9,"g":"ns"},
{"x":-0.287,"y":168,"g":"blue","lab":"TCF7L2","lx":-0.273,"ly":173.6},
{"x":-0.279,"y":161.8,"g":"blue","lab":"TCF7","lx":-0.234,"ly":166},
{"x":-0.298,"y":160,"g":"blue","lab":"BACH2","lx":-0.278,"ly":157.9},
{"x":-0.137,"y":147.9,"g":"blue","lab":"STAT1::STAT2","lx":-0.07,"ly":152.7},
{"x":-0.131,"y":144,"g":"blue","lab":"TCF7L1","lx":-0.172,"ly":147.3},
{"x":-0.1,"y":144.5,"g":"blue","lab":"EWSR1-FLI1","lx":-0.028,"ly":142.7},
{"x":-0.137,"y":136.7,"g":"blue","lab":"Sox6","lx":-0.159,"ly":140.6},
{"x":-0.131,"y":132.7,"g":"blue","lab":"ERF::FOXI1","lx":-0.131,"ly":133.6},
{"x":-0.111,"y":130.6,"g":"blue","lab":"FOXJ2::ELF1","lx":-0.047,"ly":128.2},
{"x":-0.12,"y":121.5,"g":"blue","lab":"Tcf12","lx":-0.117,"ly":119},
{"x":-0.107,"y":109.4,"g":"blue","lab":"FLI1","lx":-0.114,"ly":107.3},
{"x":0.349,"y":172.4,"g":"orange","lab":"CEBPA","lx":0.317,"ly":177.6},
{"x":0.349,"y":157.3,"g":"orange","lab":"GCM1","lx":0.34,"ly":162.4},
{"x":0.158,"y":149.4,"g":"orange","lab":"SREBF1","lx":0.168,"ly":154},
{"x":0.217,"y":149.7,"g":"orange","lab":"NFIL3","lx":0.226,"ly":143.6},
{"x":0.152,"y":131.5,"g":"orange","lab":"LHX2","lx":0.159,"ly":136.7},
{"x":0.158,"y":128.5,"g":"orange","lab":"Ddit3::Cebpa","lx":0.252,"ly":130},
{"x":0.172,"y":125.5,"g":"orange","lab":"MSX1","lx":0.23,"ly":123},
{"x":0.182,"y":118.5,"g":"orange","lab":"Lhx8","lx":0.213,"ly":116.4},
{"x":0.147,"y":104.8,"g":"orange","lab":"CUX1","lx":0.18,"ly":109.4},
{"x":0.15,"y":79.7,"g":"orange","lab":"GMEB2","lx":0.165,"ly":75.5}
 ],
 "v3":[
{"x":-0.055,"y":1,"g":"ns"},{"x":-0.048,"y":4.8,"g":"ns"},{"x":-0.06,"y":10.3,"g":"ns"},{"x":-0.043,"y":15.8,"g":"ns"},{"x":-0.069,"y":19.5,"g":"ns"},{"x":-0.034,"y":23.2,"g":"ns"},{"x":-0.078,"y":30.5,"g":"ns"},{"x":-0.055,"y":32.4,"g":"ns"},{"x":-0.031,"y":36,"g":"ns"},{"x":-0.086,"y":39.7,"g":"ns"},{"x":-0.026,"y":43.4,"g":"ns"},{"x":-0.103,"y":48.9,"g":"ns"},{"x":-0.017,"y":50.7,"g":"ns"},{"x":-0.078,"y":48.9,"g":"ns"},{"x":-0.112,"y":54.4,"g":"ns"},{"x":-0.034,"y":56.3,"g":"ns"},{"x":-0.009,"y":59.9,"g":"ns"},{"x":-0.121,"y":61.8,"g":"ns"},{"x":0.0,"y":65.4,"g":"ns"},{"x":-0.129,"y":67.3,"g":"ns"},{"x":0.009,"y":72.8,"g":"ns"},{"x":-0.138,"y":72.8,"g":"ns"},{"x":0.017,"y":78.3,"g":"ns"},{"x":-0.112,"y":78.3,"g":"ns"},{"x":-0.147,"y":80.1,"g":"ns"},{"x":0.026,"y":85.7,"g":"ns"},{"x":-0.155,"y":83.8,"g":"ns"},{"x":0.034,"y":91.2,"g":"ns"},{"x":-0.164,"y":89.3,"g":"ns"},{"x":-0.121,"y":91.2,"g":"ns"},{"x":0.043,"y":96.7,"g":"ns"},{"x":-0.172,"y":96.7,"g":"ns"},{"x":0.052,"y":102.2,"g":"ns"},{"x":-0.155,"y":102.2,"g":"ns"},{"x":0.069,"y":105.9,"g":"ns"},{"x":-0.181,"y":104,"g":"ns"},{"x":0.086,"y":109.6,"g":"ns"},{"x":-0.147,"y":107.7,"g":"ns"},{"x":-0.19,"y":111.4,"g":"ns"},{"x":0.034,"y":109.6,"g":"ns"},{"x":-0.164,"y":115.1,"g":"ns"},{"x":-0.207,"y":115.1,"g":"ns"},{"x":0.103,"y":116.9,"g":"ns"},{"x":-0.181,"y":120.6,"g":"ns"},{"x":-0.216,"y":122.4,"g":"ns"},{"x":0.034,"y":120.6,"g":"ns"},{"x":-0.155,"y":122.4,"g":"ns"},{"x":-0.198,"y":126.1,"g":"ns"},{"x":-0.233,"y":126.1,"g":"ns"},{"x":0.052,"y":127.9,"g":"ns"},{"x":0.138,"y":127.9,"g":"ns"},{"x":-0.172,"y":131.6,"g":"ns"},{"x":-0.224,"y":131.6,"g":"ns"},{"x":0.086,"y":131.6,"g":"ns"},{"x":-0.241,"y":135.3,"g":"ns"},{"x":-0.207,"y":135.3,"g":"ns"},{"x":-0.19,"y":137.1,"g":"ns"},{"x":0.121,"y":139,"g":"ns"},{"x":-0.25,"y":139,"g":"ns"},{"x":-0.221,"y":140.8,"g":"ns"},{"x":-0.198,"y":142.6,"g":"ns"},{"x":0.155,"y":144.5,"g":"ns"},{"x":-0.276,"y":142.6,"g":"ns"},{"x":-0.233,"y":144.5,"g":"ns"},{"x":-0.21,"y":145.6,"g":"ns"},{"x":-0.181,"y":144.5,"g":"ns"},{"x":-0.259,"y":148.2,"g":"ns"},{"x":-0.224,"y":150,"g":"ns"},{"x":-0.198,"y":148.2,"g":"ns"},{"x":0.19,"y":148.2,"g":"ns"},{"x":-0.293,"y":151.8,"g":"ns"},{"x":-0.241,"y":153.7,"g":"ns"},{"x":-0.216,"y":154.4,"g":"ns"},{"x":-0.267,"y":157.4,"g":"ns"},{"x":0.181,"y":157.4,"g":"ns"},{"x":0.207,"y":161,"g":"ns"},{"x":-0.302,"y":159.2,"g":"ns"},{"x":0.224,"y":168.4,"g":"ns"},{"x":0.19,"y":172.1,"g":"ns"},{"x":0.241,"y":175.7,"g":"ns"},{"x":0.155,"y":166.5,"g":"ns"},{"x":0.259,"y":184.9,"g":"ns"},{"x":-0.267,"y":87.5,"g":"ns"},{"x":-0.284,"y":127.9,"g":"ns"},{"x":-0.207,"y":105.9,"g":"ns"},
{"x":0.357,"y":209.6,"g":"orange","lab":"KLF10","lx":0.412,"ly":215},
{"x":0.457,"y":203.3,"g":"orange","lab":"KLF15","lx":0.475,"ly":198.5},
{"x":0.276,"y":197,"g":"orange","lab":"KLF5","lx":0.295,"ly":202.6},
{"x":0.267,"y":193,"g":"orange","lab":"KLF4","lx":0.2,"ly":192.3},
{"x":0.336,"y":189.7,"g":"orange","lab":"SP3","lx":0.374,"ly":191.2},
{"x":0.281,"y":188.6,"g":"orange","lab":"SP4","lx":0.229,"ly":185},
{"x":0.302,"y":186.8,"g":"orange","lab":"ZNF740","lx":0.369,"ly":182},
{"x":0.379,"y":177.6,"g":"orange","lab":"TFDP1","lx":0.441,"ly":171},
{"x":0.307,"y":167.6,"g":"orange","lab":"NFKB1","lx":0.364,"ly":161.8},
{"x":0.322,"y":139.7,"g":"orange","lab":"E2F2","lx":0.372,"ly":144.5},
{"x":-0.417,"y":186.8,"g":"black","lab":"TEAD1","lx":-0.495,"ly":193.4},
{"x":-0.4,"y":185,"g":"black","lab":"GATA6","lx":-0.347,"ly":193.4},
{"x":-0.43,"y":184,"g":"black","lab":"Gata3","lx":-0.345,"ly":186.8},
{"x":-0.436,"y":182,"g":"black","lab":"TEAD4","lx":-0.491,"ly":183},
{"x":-0.405,"y":180,"g":"black","lab":"CEBPA","lx":-0.317,"ly":179.4},
{"x":-0.552,"y":176.8,"g":"black","lab":"BACH2","lx":-0.526,"ly":171.3},
{"x":-0.414,"y":175.7,"g":"black","lab":"GATA2","lx":-0.334,"ly":172},
{"x":-0.393,"y":168.4,"g":"black","lab":"POU2F2","lx":-0.3,"ly":163.6},
{"x":-0.414,"y":153.7,"g":"black","lab":"NFIL3","lx":-0.434,"ly":157.4},
{"x":-0.336,"y":152.6,"g":"black","lab":"Foxj2","lx":-0.284,"ly":150}
 ]
},
"vconcat":[
{
 "title":{"text":"A","anchor":"start","frame":"group","fontSize":15,"fontWeight":"bold","dx":-21.5,"offset":-1},
 "hconcat":[
  {"width":1,"height":1,"data":{"values":[]},"mark":"point"},
  {"hconcat":[
  {"vconcat":[
   {"width":236,"height":31,"layer":[
    {"data":{"name":"hl1"},"mark":{"type":"rect","color":"#d9d9d9"},"encoding":{"x":{"field":"s","type":"quantitative","scale":{"domain":[0,100]},"axis":null},"x2":{"field":"e"},"y":{"datum":0},"y2":{"datum":91.875}}},
    {"data":{"name":"hopx"},"transform":[{"filter":"datum.t==='SA'"}],"mark":{"type":"area","color":"#1c1c1c","line":{"color":"#1c1c1c","strokeWidth":0.6}},"encoding":{"x":{"field":"x","type":"quantitative","scale":{"domain":[0,100]},"axis":null},"y":{"field":"v","type":"quantitative","scale":{"domain":[0,135.625]},"axis":{"values":[0,70],"title":null}}}},
    {"data":{"values":[{}]},"mark":{"type":"text","fontSize":8,"color":"#1c1c1c","dy":2},"encoding":{"x":{"datum":48,"axis":null},"y":{"datum":70},"text":{"value":"ATAC"}}},
    {"data":{"values":[{}]},"mark":{"type":"text","fontSize":9.5,"fontStyle":"italic","fontWeight":"bold","align":"left","color":"#1f7bc7"},"encoding":{"x":{"datum":3,"axis":null},"y":{"datum":118},"text":{"value":"HOPX"}}},
    {"data":{"values":[{}]},"mark":{"type":"rule","color":"#222222"},"encoding":{"x":{"datum":-6.8,"axis":null},"y":{"datum":0},"y2":{"datum":70}}}
   ]},
   {"width":236,"height":21,"layer":[
    {"data":{"name":"hl1"},"mark":{"type":"rect","color":"#d9d9d9"},"encoding":{"x":{"field":"s","type":"quantitative","scale":{"domain":[0,100]},"axis":null},"x2":{"field":"e"}}},
    {"data":{"name":"hopx"},"transform":[{"filter":"datum.t==='SM'"}],"mark":{"type":"area","color":"#2d66bd","line":{"color":"#2d66bd","strokeWidth":0.6}},"encoding":{"x":{"field":"x","type":"quantitative","scale":{"domain":[0,100]},"axis":null},"y":{"field":"v","type":"quantitative","scale":{"domain":[0,157.5]},"axis":{"values":[0,120],"title":null}}}},
    {"data":{"values":[{}]},"mark":{"type":"text","fontSize":8,"color":"#3a78d2","dy":2},"encoding":{"x":{"datum":48,"axis":null},"y":{"datum":120},"text":{"value":"BRM"}}},
    {"data":{"values":[{}]},"mark":{"type":"rule","color":"#222222"},"encoding":{"x":{"datum":-6.8,"axis":null}}}
   ]},
   {"width":236,"height":21,"layer":[
    {"data":{"name":"hl1"},"mark":{"type":"rect","color":"#d9d9d9"},"encoding":{"x":{"field":"s","type":"quantitative","scale":{"domain":[0,100]},"axis":null},"x2":{"field":"e"}}},
    {"data":{"name":"hopx"},"transform":[{"filter":"datum.t==='SG'"}],"mark":{"type":"area","color":"#c04fb5","line":{"color":"#c04fb5","strokeWidth":0.6}},"encoding":{"x":{"field":"x","type":"quantitative","scale":{"domain":[0,100]},"axis":null},"y":{"field":"v","type":"quantitative","scale":{"domain":[0,157.5]},"axis":{"values":[0,120],"title":null}}}},
    {"data":{"values":[{}]},"mark":{"type":"text","fontSize":8,"color":"#c25abf","dy":2},"encoding":{"x":{"datum":48,"axis":null},"y":{"datum":120},"text":{"value":"BRG1"}}},
    {"data":{"values":[{}]},"mark":{"type":"rule","color":"#222222"},"encoding":{"x":{"datum":-6.8,"axis":null}}},
    {"data":{"values":[{}]},"mark":{"type":"text","fontSize":10,"color":"#000000"},"encoding":{"x":{"datum":-12.3,"axis":null},"y":{"datum":82.5},"text":{"value":"SR"}}}
   ]},
   {"width":236,"height":21,"layer":[
    {"data":{"name":"hl1"},"mark":{"type":"rect","color":"#d9d9d9"},"encoding":{"x":{"field":"s","type":"quantitative","scale":{"domain":[0,100]},"axis":null},"x2":{"field":"e"}}},
    {"data":{"name":"hopx"},"transform":[{"filter":"datum.t==='SK'"}],"mark":{"type":"area","color":"#8e6849","line":{"color":"#8e6849","strokeWidth":0.6}},"encoding":{"x":{"field":"x","type":"quantitative","scale":{"domain":[0,100]},"axis":null},"y":{"field":"v","type":"quantitative","scale":{"domain":[0,157.5]},"axis":{"values":[0,120],"title":null}}}},
    {"data":{"values":[{}]},"mark":{"type":"text","fontSize":8,"color":"#8c6b4f","dy":2},"encoding":{"x":{"datum":48,"axis":null},"y":{"datum":120},"text":{"value":"H3K27ac"}}},
    {"data":{"values":[{}]},"mark":{"type":"rule","color":"#222222"},"encoding":{"x":{"datum":-6.8,"axis":null}}}
   ]},
   {"width":236,"height":21,"layer":[
    {"data":{"name":"hl1"},"mark":{"type":"rect","color":"#d9d9d9"},"encoding":{"x":{"field":"s","type":"quantitative","scale":{"domain":[0,100]},"axis":null},"x2":{"field":"e"}}},
    {"data":{"name":"hopx"},"transform":[{"filter":"datum.t==='SH'"}],"mark":{"type":"area","color":"#a8393c","line":{"color":"#a8393c","strokeWidth":0.6}},"encoding":{"x":{"field":"x","type":"quantitative","scale":{"domain":[0,100]},"axis":null},"y":{"field":"v","type":"quantitative","scale":{"domain":[0,393.75]},"axis":{"values":[0,300],"title":null}}}},
    {"data":{"values":[{}]},"mark":{"type":"text","fontSize":8,"color":"#b5464b","dy":2},"encoding":{"x":{"datum":48,"axis":null},"y":{"datum":300},"text":{"value":"H3K4me3"}}},
    {"data":{"values":[{}]},"mark":{"type":"rule","color":"#222222"},"encoding":{"x":{"datum":-6.8,"axis":null}}}
   ]},
   {"width":236,"height":21,"layer":[
    {"data":{"name":"hl1"},"mark":{"type":"rect","color":"#d9d9d9"},"encoding":{"x":{"field":"s","type":"quantitative","scale":{"domain":[0,100]},"axis":null},"x2":{"field":"e"}}},
    {"data":{"name":"hopx"},"transform":[{"filter":"datum.t==='TA'"}],"mark":{"type":"area","color":"#1c1c1c","line":{"color":"#1c1c1c","strokeWidth":0.6}},"encoding":{"x":{"field":"x","type":"quantitative","scale":{"domain":[0,100]},"axis":null},"y":{"field":"v","type":"quantitative","scale":{"domain":[0,91.875]},"axis":{"values":[0,70],"title":null}}}},
    {"data":{"values":[{}]},"mark":{"type":"text","fontSize":8,"color":"#1c1c1c","dy":2},"encoding":{"x":{"datum":48,"axis":null},"y":{"datum":70},"text":{"value":"ATAC"}}},
    {"data":{"values":[{}]},"mark":{"type":"rule","color":"#222222"},"encoding":{"x":{"datum":-6.8,"axis":null},"y":{"datum":0},"y2":{"datum":70}}}
   ]},
   {"width":236,"height":21,"layer":[
    {"data":{"name":"hl1"},"mark":{"type":"rect","color":"#d9d9d9"},"encoding":{"x":{"field":"s","type":"quantitative","scale":{"domain":[0,100]},"axis":null},"x2":{"field":"e"}}},
    {"data":{"name":"hopx"},"transform":[{"filter":"datum.t==='TM'"}],"mark":{"type":"area","color":"#2d66bd","line":{"color":"#2d66bd","strokeWidth":0.6}},"encoding":{"x":{"field":"x","type":"quantitative","scale":{"domain":[0,100]},"axis":null},"y":{"field":"v","type":"quantitative","scale":{"domain":[0,157.5]},"axis":{"values":[0,120],"title":null}}}},
    {"data":{"values":[{}]},"mark":{"type":"text","fontSize":8,"color":"#3a78d2","dy":2},"encoding":{"x":{"datum":48,"axis":null},"y":{"datum":120},"text":{"value":"BRM"}}},
    {"data":{"values":[{}]},"mark":{"type":"rule","color":"#222222"},"encoding":{"x":{"datum":-6.8,"axis":null}}}
   ]},
   {"width":236,"height":21,"layer":[
    {"data":{"name":"hl1"},"mark":{"type":"rect","color":"#d9d9d9"},"encoding":{"x":{"field":"s","type":"quantitative","scale":{"domain":[0,100]},"axis":null},"x2":{"field":"e"}}},
    {"data":{"name":"hopx"},"transform":[{"filter":"datum.t==='TG'"}],"mark":{"type":"area","color":"#c04fb5","line":{"color":"#c04fb5","strokeWidth":0.6}},"encoding":{"x":{"field":"x","type":"quantitative","scale":{"domain":[0,100]},"axis":null},"y":{"field":"v","type":"quantitative","scale":{"domain":[0,157.5]},"axis":{"values":[0,120],"title":null}}}},
    {"data":{"values":[{}]},"mark":{"type":"text","fontSize":8,"color":"#c25abf","dy":2},"encoding":{"x":{"datum":48,"axis":null},"y":{"datum":120},"text":{"value":"BRG1"}}},
    {"data":{"values":[{}]},"mark":{"type":"rule","color":"#222222"},"encoding":{"x":{"datum":-6.8,"axis":null}}},
    {"data":{"values":[{}]},"mark":{"type":"text","fontSize":10,"color":"#000000"},"encoding":{"x":{"datum":-12.3,"axis":null},"y":{"datum":12},"text":{"value":"ST"}}}
   ]},
   {"width":236,"height":21,"layer":[
    {"data":{"name":"hl1"},"mark":{"type":"rect","color":"#d9d9d9"},"encoding":{"x":{"field":"s","type":"quantitative","scale":{"domain":[0,100]},"axis":null},"x2":{"field":"e"}}},
    {"data":{"name":"hopx"},"transform":[{"filter":"datum.t==='TK'"}],"mark":{"type":"area","color":"#8e6849","line":{"color":"#8e6849","strokeWidth":0.6}},"encoding":{"x":{"field":"x","type":"quantitative","scale":{"domain":[0,100]},"axis":null},"y":{"field":"v","type":"quantitative","scale":{"domain":[0,157.5]},"axis":{"values":[0,120],"title":null}}}},
    {"data":{"values":[{}]},"mark":{"type":"text","fontSize":8,"color":"#8c6b4f","dy":2},"encoding":{"x":{"datum":48,"axis":null},"y":{"datum":120},"text":{"value":"H3K27ac"}}},
    {"data":{"values":[{}]},"mark":{"type":"rule","color":"#222222"},"encoding":{"x":{"datum":-6.8,"axis":null}}}
   ]},
   {"width":236,"height":21,"layer":[
    {"data":{"name":"hl1"},"mark":{"type":"rect","color":"#d9d9d9"},"encoding":{"x":{"field":"s","type":"quantitative","scale":{"domain":[0,100]},"axis":null},"x2":{"field":"e"}}},
    {"data":{"name":"hopx"},"transform":[{"filter":"datum.t==='TH'"}],"mark":{"type":"area","color":"#a8393c","line":{"color":"#a8393c","strokeWidth":0.6}},"encoding":{"x":{"field":"x","type":"quantitative","scale":{"domain":[0,100]},"axis":null},"y":{"field":"v","type":"quantitative","scale":{"domain":[0,393.75]},"axis":{"values":[0,300],"title":null}}}},
    {"data":{"values":[{}]},"mark":{"type":"text","fontSize":8,"color":"#b5464b","dy":2},"encoding":{"x":{"datum":48,"axis":null},"y":{"datum":300},"text":{"value":"H3K4me3"}}},
    {"data":{"values":[{}]},"mark":{"type":"rule","color":"#222222"},"encoding":{"x":{"datum":-6.8,"axis":null}}}
   ]},
   {"width":236,"height":21,"layer":[
    {"data":{"name":"hl1"},"mark":{"type":"rect","color":"#d9d9d9"},"encoding":{"x":{"field":"s","type":"quantitative","scale":{"domain":[0,100]},"axis":null},"x2":{"field":"e"}}},
    {"data":{"name":"hopx"},"transform":[{"filter":"datum.t==='BA'"}],"mark":{"type":"area","color":"#1c1c1c","line":{"color":"#1c1c1c","strokeWidth":0.6}},"encoding":{"x":{"field":"x","type":"quantitative","scale":{"domain":[0,100]},"axis":null},"y":{"field":"v","type":"quantitative","scale":{"domain":[0,91.875]},"axis":{"values":[0,70],"title":null}}}},
    {"data":{"values":[{}]},"mark":{"type":"text","fontSize":8,"color":"#1c1c1c","dy":2},"encoding":{"x":{"datum":48,"axis":null},"y":{"datum":70},"text":{"value":"ATAC"}}},
    {"data":{"values":[{}]},"mark":{"type":"rule","color":"#222222"},"encoding":{"x":{"datum":-6.8,"axis":null},"y":{"datum":0},"y2":{"datum":70}}}
   ]},
   {"width":236,"height":21,"layer":[
    {"data":{"name":"hl1"},"mark":{"type":"rect","color":"#d9d9d9"},"encoding":{"x":{"field":"s","type":"quantitative","scale":{"domain":[0,100]},"axis":null},"x2":{"field":"e"}}},
    {"data":{"name":"hopx"},"transform":[{"filter":"datum.t==='BM'"}],"mark":{"type":"area","color":"#2d66bd","line":{"color":"#2d66bd","strokeWidth":0.6}},"encoding":{"x":{"field":"x","type":"quantitative","scale":{"domain":[0,100]},"axis":null},"y":{"field":"v","type":"quantitative","scale":{"domain":[0,157.5]},"axis":{"values":[0,120],"title":null}}}},
    {"data":{"values":[{}]},"mark":{"type":"text","fontSize":8,"color":"#3a78d2","dy":2},"encoding":{"x":{"datum":48,"axis":null},"y":{"datum":120},"text":{"value":"BRM"}}},
    {"data":{"values":[{}]},"mark":{"type":"rule","color":"#222222"},"encoding":{"x":{"datum":-6.8,"axis":null}}}
   ]},
   {"width":236,"height":21,"layer":[
    {"data":{"name":"hl1"},"mark":{"type":"rect","color":"#d9d9d9"},"encoding":{"x":{"field":"s","type":"quantitative","scale":{"domain":[0,100]},"axis":null},"x2":{"field":"e"}}},
    {"data":{"name":"hopx"},"transform":[{"filter":"datum.t==='BG'"}],"mark":{"type":"area","color":"#c04fb5","line":{"color":"#c04fb5","strokeWidth":0.6}},"encoding":{"x":{"field":"x","type":"quantitative","scale":{"domain":[0,100]},"axis":null},"y":{"field":"v","type":"quantitative","scale":{"domain":[0,157.5]},"axis":{"values":[0,120],"title":null}}}},
    {"data":{"values":[{}]},"mark":{"type":"text","fontSize":8,"color":"#c25abf","dy":2},"encoding":{"x":{"datum":48,"axis":null},"y":{"datum":120},"text":{"value":"BRG1"}}},
    {"data":{"values":[{}]},"mark":{"type":"rule","color":"#222222"},"encoding":{"x":{"datum":-6.8,"axis":null}}},
    {"data":{"values":[{}]},"mark":{"type":"text","fontSize":10,"color":"#000000","lineHeight":13},"encoding":{"x":{"datum":-12.3,"axis":null},"y":{"datum":-8},"text":{"value":["ST","BBinh"]}}}
   ]},
   {"width":236,"height":21,"layer":[
    {"data":{"name":"hl1"},"mark":{"type":"rect","color":"#d9d9d9"},"encoding":{"x":{"field":"s","type":"quantitative","scale":{"domain":[0,100]},"axis":null},"x2":{"field":"e"}}},
    {"data":{"name":"hopx"},"transform":[{"filter":"datum.t==='BK'"}],"mark":{"type":"area","color":"#8e6849","line":{"color":"#8e6849","strokeWidth":0.6}},"encoding":{"x":{"field":"x","type":"quantitative","scale":{"domain":[0,100]},"axis":null},"y":{"field":"v","type":"quantitative","scale":{"domain":[0,157.5]},"axis":{"values":[0,120],"title":null}}}},
    {"data":{"values":[{}]},"mark":{"type":"text","fontSize":8,"color":"#8c6b4f","dy":2},"encoding":{"x":{"datum":48,"axis":null},"y":{"datum":120},"text":{"value":"H3K27ac"}}},
    {"data":{"values":[{}]},"mark":{"type":"rule","color":"#222222"},"encoding":{"x":{"datum":-6.8,"axis":null}}}
   ]},
   {"width":236,"height":21,"layer":[
    {"data":{"name":"hl1"},"mark":{"type":"rect","color":"#d9d9d9"},"encoding":{"x":{"field":"s","type":"quantitative","scale":{"domain":[0,100]},"axis":null},"x2":{"field":"e"}}},
    {"data":{"name":"hopx"},"transform":[{"filter":"datum.t==='BH'"}],"mark":{"type":"area","color":"#a8393c","line":{"color":"#a8393c","strokeWidth":0.6}},"encoding":{"x":{"field":"x","type":"quantitative","scale":{"domain":[0,100]},"axis":null},"y":{"field":"v","type":"quantitative","scale":{"domain":[0,393.75]},"axis":{"values":[0,300],"title":null}}}},
    {"data":{"values":[{}]},"mark":{"type":"text","fontSize":8,"color":"#b5464b","dy":2},"encoding":{"x":{"datum":48,"axis":null},"y":{"datum":300},"text":{"value":"H3K4me3"}}},
    {"data":{"values":[{}]},"mark":{"type":"rule","color":"#222222"},"encoding":{"x":{"datum":-6.8,"axis":null}}}
   ]},
   {"width":236,"height":24,"layer":[
    {"data":{"values":[{"gene":"HOPX","s":7.6,"e":74}]},"mark":{"type":"rule","color":"#2a80c4","strokeWidth":1},"encoding":{"x":{"field":"s","type":"quantitative","scale":{"domain":[0,100]},"axis":null},"x2":{"field":"e"},"y":{"datum":19,"type":"quantitative","scale":{"domain":[0,24]},"axis":{"values":[],"title":null,"ticks":false,"labels":false}}}},
    {"data":{"values":[{"gene":"HOPX","s":7.6,"e":74}]},"mark":{"type":"rule","color":"#2a80c4","strokeWidth":3,"strokeDash":[1,1.6]},"encoding":{"x":{"field":"s","type":"quantitative","scale":{"domain":[0,100]},"axis":null},"x2":{"field":"e"},"y":{"datum":19}}},
    {"data":{"values":[{"p":23.5},{"p":27.3},{"p":73.6}]},"mark":{"type":"point","shape":"square","filled":true,"size":9,"color":"#2a80c4","opacity":1},"encoding":{"x":{"field":"p","type":"quantitative","scale":{"domain":[0,100]},"axis":null},"y":{"datum":19}}},
    {"data":{"values":[{"p":8.3}]},"mark":{"type":"point","shape":"triangle-left","filled":true,"size":18,"color":"#2a80c4","opacity":1},"encoding":{"x":{"field":"p","type":"quantitative","scale":{"domain":[0,100]},"axis":null},"y":{"datum":19}}},
    {"data":{"values":[{"gene":"HOPX","p":0.4}]},"mark":{"type":"text","align":"left","fontSize":8.5,"color":"#2a80c4"},"encoding":{"x":{"field":"p","type":"quantitative","scale":{"domain":[0,100]},"axis":null},"y":{"datum":13},"text":{"field":"gene"}}},
    {"data":{"values":[{"lab":"10 kb","s":53.4,"e":74.4}]},"mark":{"type":"rule","color":"#222222","strokeWidth":0.7},"encoding":{"x":{"field":"s","type":"quantitative","scale":{"domain":[0,100]},"axis":null},"x2":{"field":"e"},"y":{"datum":14}}},
    {"data":{"values":[{"p":53.4},{"p":74.4}]},"mark":{"type":"rule","color":"#222222","strokeWidth":0.7},"encoding":{"x":{"field":"p","type":"quantitative","scale":{"domain":[0,100]},"axis":null},"y":{"datum":12.3},"y2":{"datum":15.7}}},
    {"data":{"values":[{"lab":"10 kb","s":53.4}]},"mark":{"type":"text","align":"right","fontSize":5,"color":"#222222","dx":-2},"encoding":{"x":{"field":"s","type":"quantitative","scale":{"domain":[0,100]},"axis":null},"y":{"datum":14},"text":{"field":"lab"}}},
    {"data":{"values":[{"lab":"hg38, chr4:56,644,470-56,694,418","p":75.2}]},"mark":{"type":"text","fontSize":5,"color":"#444444"},"encoding":{"x":{"field":"p","type":"quantitative","scale":{"domain":[0,100]},"axis":null},"y":{"datum":5},"text":{"field":"lab"}}}
   ]}
  ],"spacing":0,"bounds":"flush"},
  {"vconcat":[
   {"width":252,"height":23,"layer":[
    {"data":{"name":"hl2"},"mark":{"type":"rect","color":"#d9d9d9"},"encoding":{"x":{"field":"s","type":"quantitative","scale":{"domain":[0,100]},"axis":null},"x2":{"field":"e"},"y":{"datum":0},"y2":{"datum":93.75}}},
    {"data":{"name":"cga"},"transform":[{"filter":"datum.t==='SA'"}],"mark":{"type":"area","color":"#1c1c1c","line":{"color":"#1c1c1c","strokeWidth":0.6}},"encoding":{"x":{"field":"x","type":"quantitative","scale":{"domain":[0,100]},"axis":null},"y":{"field":"v","type":"quantitative","scale":{"domain":[0,215.6]},"axis":{"values":[0,150],"title":null}}}},
    {"data":{"values":[{}]},"mark":{"type":"text","fontSize":8,"color":"#1c1c1c","dy":2.5},"encoding":{"x":{"datum":50,"axis":null},"y":{"datum":150},"text":{"value":"ATAC"}}},
    {"data":{"values":[{}]},"mark":{"type":"text","fontSize":9.5,"fontStyle":"italic","fontWeight":"bold","align":"left","color":"#1f7bc7"},"encoding":{"x":{"datum":2.8,"axis":null},"y":{"datum":187.5},"text":{"value":"CGA"}}},
    {"data":{"values":[{}]},"mark":{"type":"rule","color":"#222222"},"encoding":{"x":{"datum":-6.7,"axis":null},"y":{"datum":0},"y2":{"datum":150}}}
   ]},
   {"width":252,"height":21.64,"layer":[
    {"data":{"name":"hl2"},"mark":{"type":"rect","color":"#d9d9d9"},"encoding":{"x":{"field":"s","type":"quantitative","scale":{"domain":[0,100]},"axis":null},"x2":{"field":"e"}}},
    {"data":{"name":"cga"},"transform":[{"filter":"datum.t==='SM'"}],"mark":{"type":"area","color":"#2d66bd","line":{"color":"#2d66bd","strokeWidth":0.6}},"encoding":{"x":{"field":"x","type":"quantitative","scale":{"domain":[0,100]},"axis":null},"y":{"field":"v","type":"quantitative","scale":{"domain":[0,148.78]},"axis":{"values":[0,110],"title":null}}}},
    {"data":{"values":[{}]},"mark":{"type":"text","fontSize":8,"color":"#3a78d2","dy":2.5},"encoding":{"x":{"datum":50,"axis":null},"y":{"datum":110},"text":{"value":"BRM"}}},
    {"data":{"values":[{}]},"mark":{"type":"rule","color":"#222222"},"encoding":{"x":{"datum":-6.7,"axis":null}}}
   ]},
   {"width":252,"height":21.64,"layer":[
    {"data":{"name":"hl2"},"mark":{"type":"rect","color":"#d9d9d9"},"encoding":{"x":{"field":"s","type":"quantitative","scale":{"domain":[0,100]},"axis":null},"x2":{"field":"e"}}},
    {"data":{"name":"cga"},"transform":[{"filter":"datum.t==='SG'"}],"mark":{"type":"area","color":"#c04fb5","line":{"color":"#c04fb5","strokeWidth":0.6}},"encoding":{"x":{"field":"x","type":"quantitative","scale":{"domain":[0,100]},"axis":null},"y":{"field":"v","type":"quantitative","scale":{"domain":[0,162.3]},"axis":{"values":[0,120],"title":null}}}},
    {"data":{"values":[{}]},"mark":{"type":"text","fontSize":8,"color":"#c25abf","dy":2.5},"encoding":{"x":{"datum":50,"axis":null},"y":{"datum":120},"text":{"value":"BRG1"}}},
    {"data":{"values":[{}]},"mark":{"type":"rule","color":"#222222"},"encoding":{"x":{"datum":-6.7,"axis":null}}},
    {"data":{"values":[{}]},"mark":{"type":"text","fontSize":10,"color":"#000000"},"encoding":{"x":{"datum":-11.9,"axis":null},"y":{"datum":82.5},"text":{"value":"SR"}}}
   ]},
   {"width":252,"height":21.64,"layer":[
    {"data":{"name":"hl2"},"mark":{"type":"rect","color":"#d9d9d9"},"encoding":{"x":{"field":"s","type":"quantitative","scale":{"domain":[0,100]},"axis":null},"x2":{"field":"e"}}},
    {"data":{"name":"cga"},"transform":[{"filter":"datum.t==='SK'"}],"mark":{"type":"area","color":"#8e6849","line":{"color":"#8e6849","strokeWidth":0.6}},"encoding":{"x":{"field":"x","type":"quantitative","scale":{"domain":[0,100]},"axis":null},"y":{"field":"v","type":"quantitative","scale":{"domain":[0,811.5]},"axis":{"values":[0,600],"title":null}}}},
    {"data":{"values":[{}]},"mark":{"type":"text","fontSize":8,"color":"#8c6b4f","dy":2.5},"encoding":{"x":{"datum":50,"axis":null},"y":{"datum":600},"text":{"value":"H3K27ac"}}},
    {"data":{"values":[{}]},"mark":{"type":"rule","color":"#222222"},"encoding":{"x":{"datum":-6.7,"axis":null}}}
   ]},
   {"width":252,"height":21.64,"layer":[
    {"data":{"name":"hl2"},"mark":{"type":"rect","color":"#d9d9d9"},"encoding":{"x":{"field":"s","type":"quantitative","scale":{"domain":[0,100]},"axis":null},"x2":{"field":"e"}}},
    {"data":{"name":"cga"},"transform":[{"filter":"datum.t==='SH'"}],"mark":{"type":"area","color":"#a8393c","line":{"color":"#a8393c","strokeWidth":0.6}},"encoding":{"x":{"field":"x","type":"quantitative","scale":{"domain":[0,100]},"axis":null},"y":{"field":"v","type":"quantitative","scale":{"domain":[0,2028.75]},"axis":{"values":[0,1500],"title":null}}}},
    {"data":{"values":[{}]},"mark":{"type":"text","fontSize":8,"color":"#b5464b","dy":2.5},"encoding":{"x":{"datum":50,"axis":null},"y":{"datum":1500},"text":{"value":"H3K4me3"}}},
    {"data":{"values":[{}]},"mark":{"type":"rule","color":"#222222"},"encoding":{"x":{"datum":-6.7,"axis":null}}}
   ]},
   {"width":252,"height":21.64,"layer":[
    {"data":{"name":"hl2"},"mark":{"type":"rect","color":"#d9d9d9"},"encoding":{"x":{"field":"s","type":"quantitative","scale":{"domain":[0,100]},"axis":null},"x2":{"field":"e"}}},
    {"data":{"name":"cga"},"transform":[{"filter":"datum.t==='TA'"}],"mark":{"type":"area","color":"#1c1c1c","line":{"color":"#1c1c1c","strokeWidth":0.6}},"encoding":{"x":{"field":"x","type":"quantitative","scale":{"domain":[0,100]},"axis":null},"y":{"field":"v","type":"quantitative","scale":{"domain":[0,202.9]},"axis":{"values":[0,150],"title":null}}}},
    {"data":{"values":[{}]},"mark":{"type":"text","fontSize":8,"color":"#1c1c1c","dy":2.5},"encoding":{"x":{"datum":50,"axis":null},"y":{"datum":150},"text":{"value":"ATAC"}}},
    {"data":{"values":[{}]},"mark":{"type":"rule","color":"#222222"},"encoding":{"x":{"datum":-6.7,"axis":null},"y":{"datum":0},"y2":{"datum":150}}}
   ]},
   {"width":252,"height":21.64,"layer":[
    {"data":{"name":"hl2"},"mark":{"type":"rect","color":"#d9d9d9"},"encoding":{"x":{"field":"s","type":"quantitative","scale":{"domain":[0,100]},"axis":null},"x2":{"field":"e"}}},
    {"data":{"name":"cga"},"transform":[{"filter":"datum.t==='TM'"}],"mark":{"type":"area","color":"#2d66bd","line":{"color":"#2d66bd","strokeWidth":0.6}},"encoding":{"x":{"field":"x","type":"quantitative","scale":{"domain":[0,100]},"axis":null},"y":{"field":"v","type":"quantitative","scale":{"domain":[0,148.78]},"axis":{"values":[0,110],"title":null}}}},
    {"data":{"values":[{}]},"mark":{"type":"text","fontSize":8,"color":"#3a78d2","dy":2.5},"encoding":{"x":{"datum":50,"axis":null},"y":{"datum":110},"text":{"value":"BRM"}}},
    {"data":{"values":[{}]},"mark":{"type":"rule","color":"#222222"},"encoding":{"x":{"datum":-6.7,"axis":null}}}
   ]},
   {"width":252,"height":21.64,"layer":[
    {"data":{"name":"hl2"},"mark":{"type":"rect","color":"#d9d9d9"},"encoding":{"x":{"field":"s","type":"quantitative","scale":{"domain":[0,100]},"axis":null},"x2":{"field":"e"}}},
    {"data":{"name":"cga"},"transform":[{"filter":"datum.t==='TG'"}],"mark":{"type":"area","color":"#c04fb5","line":{"color":"#c04fb5","strokeWidth":0.6}},"encoding":{"x":{"field":"x","type":"quantitative","scale":{"domain":[0,100]},"axis":null},"y":{"field":"v","type":"quantitative","scale":{"domain":[0,162.3]},"axis":{"values":[0,120],"title":null}}}},
    {"data":{"values":[{}]},"mark":{"type":"text","fontSize":8,"color":"#c25abf","dy":2.5},"encoding":{"x":{"datum":50,"axis":null},"y":{"datum":120},"text":{"value":"BRG1"}}},
    {"data":{"values":[{}]},"mark":{"type":"rule","color":"#222222"},"encoding":{"x":{"datum":-6.7,"axis":null}}},
    {"data":{"values":[{}]},"mark":{"type":"text","fontSize":10,"color":"#000000"},"encoding":{"x":{"datum":-11.9,"axis":null},"y":{"datum":52.5},"text":{"value":"ST"}}}
   ]},
   {"width":252,"height":21.64,"layer":[
    {"data":{"name":"hl2"},"mark":{"type":"rect","color":"#d9d9d9"},"encoding":{"x":{"field":"s","type":"quantitative","scale":{"domain":[0,100]},"axis":null},"x2":{"field":"e"}}},
    {"data":{"name":"cga"},"transform":[{"filter":"datum.t==='TK'"}],"mark":{"type":"area","color":"#8e6849","line":{"color":"#8e6849","strokeWidth":0.6}},"encoding":{"x":{"field":"x","type":"quantitative","scale":{"domain":[0,100]},"axis":null},"y":{"field":"v","type":"quantitative","scale":{"domain":[0,811.5]},"axis":{"values":[0,600],"title":null}}}},
    {"data":{"values":[{}]},"mark":{"type":"text","fontSize":8,"color":"#8c6b4f","dy":2.5},"encoding":{"x":{"datum":50,"axis":null},"y":{"datum":600},"text":{"value":"H3K27ac"}}},
    {"data":{"values":[{}]},"mark":{"type":"rule","color":"#222222"},"encoding":{"x":{"datum":-6.7,"axis":null}}}
   ]},
   {"width":252,"height":21.64,"layer":[
    {"data":{"name":"hl2"},"mark":{"type":"rect","color":"#d9d9d9"},"encoding":{"x":{"field":"s","type":"quantitative","scale":{"domain":[0,100]},"axis":null},"x2":{"field":"e"}}},
    {"data":{"name":"cga"},"transform":[{"filter":"datum.t==='TH'"}],"mark":{"type":"area","color":"#a8393c","line":{"color":"#a8393c","strokeWidth":0.6}},"encoding":{"x":{"field":"x","type":"quantitative","scale":{"domain":[0,100]},"axis":null},"y":{"field":"v","type":"quantitative","scale":{"domain":[0,2028.75]},"axis":{"values":[0,1500],"title":null}}}},
    {"data":{"values":[{}]},"mark":{"type":"text","fontSize":8,"color":"#b5464b","dy":2.5},"encoding":{"x":{"datum":50,"axis":null},"y":{"datum":1500},"text":{"value":"H3K4me3"}}},
    {"data":{"values":[{}]},"mark":{"type":"rule","color":"#222222"},"encoding":{"x":{"datum":-6.7,"axis":null}}}
   ]},
   {"width":252,"height":21.64,"layer":[
    {"data":{"name":"hl2"},"mark":{"type":"rect","color":"#d9d9d9"},"encoding":{"x":{"field":"s","type":"quantitative","scale":{"domain":[0,100]},"axis":null},"x2":{"field":"e"}}},
    {"data":{"name":"cga"},"transform":[{"filter":"datum.t==='BA'"}],"mark":{"type":"area","color":"#1c1c1c","line":{"color":"#1c1c1c","strokeWidth":0.6}},"encoding":{"x":{"field":"x","type":"quantitative","scale":{"domain":[0,100]},"axis":null},"y":{"field":"v","type":"quantitative","scale":{"domain":[0,202.9]},"axis":{"values":[0,150],"title":null}}}},
    {"data":{"values":[{}]},"mark":{"type":"text","fontSize":8,"color":"#1c1c1c","dy":2.5},"encoding":{"x":{"datum":50,"axis":null},"y":{"datum":150},"text":{"value":"ATAC"}}},
    {"data":{"values":[{}]},"mark":{"type":"rule","color":"#222222"},"encoding":{"x":{"datum":-6.7,"axis":null},"y":{"datum":0},"y2":{"datum":150}}}
   ]},
   {"width":252,"height":21.64,"layer":[
    {"data":{"name":"hl2"},"mark":{"type":"rect","color":"#d9d9d9"},"encoding":{"x":{"field":"s","type":"quantitative","scale":{"domain":[0,100]},"axis":null},"x2":{"field":"e"}}},
    {"data":{"name":"cga"},"transform":[{"filter":"datum.t==='BM'"}],"mark":{"type":"area","color":"#2d66bd","line":{"color":"#2d66bd","strokeWidth":0.6}},"encoding":{"x":{"field":"x","type":"quantitative","scale":{"domain":[0,100]},"axis":null},"y":{"field":"v","type":"quantitative","scale":{"domain":[0,148.78]},"axis":{"values":[0,110],"title":null}}}},
    {"data":{"values":[{}]},"mark":{"type":"text","fontSize":8,"color":"#3a78d2","dy":2.5},"encoding":{"x":{"datum":50,"axis":null},"y":{"datum":110},"text":{"value":"BRM"}}},
    {"data":{"values":[{}]},"mark":{"type":"rule","color":"#222222"},"encoding":{"x":{"datum":-6.7,"axis":null}}}
   ]},
   {"width":252,"height":21.64,"layer":[
    {"data":{"name":"hl2"},"mark":{"type":"rect","color":"#d9d9d9"},"encoding":{"x":{"field":"s","type":"quantitative","scale":{"domain":[0,100]},"axis":null},"x2":{"field":"e"}}},
    {"data":{"name":"cga"},"transform":[{"filter":"datum.t==='BG'"}],"mark":{"type":"area","color":"#c04fb5","line":{"color":"#c04fb5","strokeWidth":0.6}},"encoding":{"x":{"field":"x","type":"quantitative","scale":{"domain":[0,100]},"axis":null},"y":{"field":"v","type":"quantitative","scale":{"domain":[0,162.3]},"axis":{"values":[0,120],"title":null}}}},
    {"data":{"values":[{}]},"mark":{"type":"text","fontSize":8,"color":"#c25abf","dy":2.5},"encoding":{"x":{"datum":50,"axis":null},"y":{"datum":120},"text":{"value":"BRG1"}}},
    {"data":{"values":[{}]},"mark":{"type":"rule","color":"#222222"},"encoding":{"x":{"datum":-6.7,"axis":null}}},
    {"data":{"values":[{}]},"mark":{"type":"text","fontSize":10,"color":"#000000","lineHeight":13},"encoding":{"x":{"datum":-11.9,"axis":null},"y":{"datum":26},"text":{"value":["ST","BBinh"]}}}
   ]},
   {"width":252,"height":21.64,"layer":[
    {"data":{"name":"hl2"},"mark":{"type":"rect","color":"#d9d9d9"},"encoding":{"x":{"field":"s","type":"quantitative","scale":{"domain":[0,100]},"axis":null},"x2":{"field":"e"}}},
    {"data":{"name":"cga"},"transform":[{"filter":"datum.t==='BK'"}],"mark":{"type":"area","color":"#8e6849","line":{"color":"#8e6849","strokeWidth":0.6}},"encoding":{"x":{"field":"x","type":"quantitative","scale":{"domain":[0,100]},"axis":null},"y":{"field":"v","type":"quantitative","scale":{"domain":[0,811.5]},"axis":{"values":[0,600],"title":null}}}},
    {"data":{"values":[{}]},"mark":{"type":"text","fontSize":8,"color":"#8c6b4f","dy":2.5},"encoding":{"x":{"datum":50,"axis":null},"y":{"datum":600},"text":{"value":"H3K27ac"}}},
    {"data":{"values":[{}]},"mark":{"type":"rule","color":"#222222"},"encoding":{"x":{"datum":-6.7,"axis":null}}}
   ]},
   {"width":252,"height":21.64,"layer":[
    {"data":{"name":"hl2"},"mark":{"type":"rect","color":"#d9d9d9"},"encoding":{"x":{"field":"s","type":"quantitative","scale":{"domain":[0,100]},"axis":null},"x2":{"field":"e"}}},
    {"data":{"name":"cga"},"transform":[{"filter":"datum.t==='BH'"}],"mark":{"type":"area","color":"#a8393c","line":{"color":"#a8393c","strokeWidth":0.6}},"encoding":{"x":{"field":"x","type":"quantitative","scale":{"domain":[0,100]},"axis":null},"y":{"field":"v","type":"quantitative","scale":{"domain":[0,2028.75]},"axis":{"values":[0,1500],"title":null}}}},
    {"data":{"values":[{}]},"mark":{"type":"text","fontSize":8,"color":"#b5464b","dy":2.5},"encoding":{"x":{"datum":50,"axis":null},"y":{"datum":1500},"text":{"value":"H3K4me3"}}},
    {"data":{"values":[{}]},"mark":{"type":"rule","color":"#222222"},"encoding":{"x":{"datum":-6.7,"axis":null}}}
   ]},
   {"width":252,"height":26,"layer":[
    {"data":{"values":[{"gene":"CGA","s":16.9,"e":83.5}]},"mark":{"type":"rule","color":"#2a80c4","strokeWidth":1},"encoding":{"x":{"field":"s","type":"quantitative","scale":{"domain":[0,100]},"axis":null},"x2":{"field":"e"},"y":{"datum":18,"type":"quantitative","scale":{"domain":[0,26]},"axis":{"values":[],"title":null,"ticks":false,"labels":false}}}},
    {"data":{"values":[{"gene":"CGA","s":16.9,"e":83.5}]},"mark":{"type":"rule","color":"#2a80c4","strokeWidth":3,"strokeDash":[1,1.6]},"encoding":{"x":{"field":"s","type":"quantitative","scale":{"domain":[0,100]},"axis":null},"x2":{"field":"e"},"y":{"datum":18}}},
    {"data":{"values":[{"p":22},{"p":35.3}]},"mark":{"type":"point","shape":"square","filled":true,"size":14,"color":"#2a80c4","opacity":1},"encoding":{"x":{"field":"p","type":"quantitative","scale":{"domain":[0,100]},"axis":null},"y":{"datum":18}}},
    {"data":{"values":[{"p":17.6}]},"mark":{"type":"point","shape":"triangle-left","filled":true,"size":18,"color":"#2a80c4","opacity":1},"encoding":{"x":{"field":"p","type":"quantitative","scale":{"domain":[0,100]},"axis":null},"y":{"datum":18}}},
    {"data":{"values":[{"gene":"CGA","p":16.2}]},"mark":{"type":"text","align":"right","fontSize":8.5,"color":"#2a80c4","dx":-1},"encoding":{"x":{"field":"p","type":"quantitative","scale":{"domain":[0,100]},"axis":null},"y":{"datum":17},"text":{"field":"gene"}}},
    {"data":{"values":[{"lab":"5 kb","s":56,"e":90.6}]},"mark":{"type":"rule","color":"#222222","strokeWidth":0.7},"encoding":{"x":{"field":"s","type":"quantitative","scale":{"domain":[0,100]},"axis":null},"x2":{"field":"e"},"y":{"datum":15}}},
    {"data":{"values":[{"p":56},{"p":90.6}]},"mark":{"type":"rule","color":"#222222","strokeWidth":0.7},"encoding":{"x":{"field":"p","type":"quantitative","scale":{"domain":[0,100]},"axis":null},"y":{"datum":13.3},"y2":{"datum":16.7}}},
    {"data":{"values":[{"lab":"5 kb","s":56}]},"mark":{"type":"text","align":"right","fontSize":5,"color":"#222222","dx":-2},"encoding":{"x":{"field":"s","type":"quantitative","scale":{"domain":[0,100]},"axis":null},"y":{"datum":15},"text":{"field":"lab"}}},
    {"data":{"values":[{"lab":"hg38, chr6:87,083,095-87,097,508","p":83.5}]},"mark":{"type":"text","fontSize":5,"color":"#444444"},"encoding":{"x":{"field":"p","type":"quantitative","scale":{"domain":[0,100]},"axis":null},"y":{"datum":4},"text":{"field":"lab"}}}
   ]}
  ],"spacing":0,"bounds":"flush"}
  ],"spacing":38}
 ],
 "spacing":5
},
{
 "title":{"text":"B","anchor":"start","frame":"group","fontSize":15,"fontWeight":"bold","dx":-21.5,"offset":28},
 "hconcat":[
  {"width":212,"height":210,
   "title":{"text":"ATAC TF footprints CTRL ST vs CTRL SR","anchor":"start","frame":"group","fontSize":8.5,"fontWeight":"bold","offset":3},
   "data":{"name":"v1"},
   "layer":[
    {"transform":[{"filter":"datum.g==='ns'"}],"mark":{"type":"circle","size":7,"color":"#b8b8b8","opacity":0.85},
     "encoding":{"x":{"field":"x","type":"quantitative","scale":{"domain":[-0.37,0.555],"nice":false,"zero":false},"axis":{"values":[-0.2,0,0.2,0.4],"format":".1f","title":"Differential Binding Score"}},
      "y":{"field":"y","type":"quantitative","scale":{"domain":[-8,210],"nice":false,"zero":false},"axis":{"title":"-log10(pvalue)","values":[0,50,100,150,200],"labelColor":"#4d4d4d","labelFontSize":8,"titleFontSize":9,"titleFontWeight":"normal","titleColor":"#000000","titleX":-20,"titleBaseline":"middle","domainColor":"#000000","domainWidth":1.2,"tickColor":"#333333","tickSize":3,"tickWidth":0.8,"labelPadding":1,"labelFlush":false}}}},
    {"transform":[{"filter":"datum.g!=='ns'"}],"mark":{"type":"circle","size":9,"opacity":1},"encoding":{"x":{"field":"x","type":"quantitative"},"y":{"field":"y","type":"quantitative"},"color":{"field":"g","type":"nominal","scale":{"domain":["blue","black","orange"],"range":["#3333ee","#000000","#f7941d"]},"legend":null}}},
    {"transform":[{"filter":"datum.g!=='ns'"}],"mark":{"type":"text","fontSize":8.5,"color":"#000000"},"encoding":{"x":{"field":"lx","type":"quantitative"},"y":{"field":"ly","type":"quantitative"},"text":{"field":"lab"}}}
   ]},
  {"width":212,"height":210,
   "title":{"text":"ATAC TF footprints BB_inh ST vs CTRL SR","anchor":"start","frame":"group","fontSize":8.5,"fontWeight":"bold","offset":3},
   "data":{"name":"v2"},
   "layer":[
    {"transform":[{"filter":"datum.g==='ns'"}],"mark":{"type":"circle","size":7,"color":"#b8b8b8","opacity":0.85},
     "encoding":{"x":{"field":"x","type":"quantitative","scale":{"domain":[-0.33,0.38],"nice":false,"zero":false},"axis":{"values":[-0.2,0,0.2],"format":".1f","title":"Differential Binding Score"}},
      "y":{"field":"y","type":"quantitative","scale":{"domain":[-11,181],"nice":false,"zero":false},"axis":{"title":"-log10(pvalue)","values":[0,50,100,150],"labelColor":"#4d4d4d","labelFontSize":8,"titleFontSize":9,"titleFontWeight":"normal","titleColor":"#000000","titleX":-20,"titleBaseline":"middle","domainColor":"#000000","domainWidth":1.2,"tickColor":"#333333","tickSize":3,"tickWidth":0.8,"labelPadding":1,"labelFlush":false}}}},
    {"transform":[{"filter":"datum.g!=='ns'"}],"mark":{"type":"circle","size":9,"opacity":1},"encoding":{"x":{"field":"x","type":"quantitative"},"y":{"field":"y","type":"quantitative"},"color":{"field":"g","type":"nominal","scale":{"domain":["blue","black","orange"],"range":["#3333ee","#000000","#f7941d"]},"legend":null}}},
    {"transform":[{"filter":"datum.g!=='ns'"}],"mark":{"type":"text","fontSize":8.5,"color":"#000000"},"encoding":{"x":{"field":"lx","type":"quantitative"},"y":{"field":"ly","type":"quantitative"},"text":{"field":"lab"}}}
   ]},
  {"width":212,"height":210,
   "title":{"text":"ATAC TF footprints BB_inh ST vs CTRL ST","anchor":"start","frame":"group","fontSize":8.5,"fontWeight":"bold","offset":3},
   "data":{"name":"v3"},
   "layer":[
    {"transform":[{"filter":"datum.g==='ns'"}],"mark":{"type":"circle","size":7,"color":"#b8b8b8","opacity":0.85},
     "encoding":{"x":{"field":"x","type":"quantitative","scale":{"domain":[-0.605,0.507],"nice":false,"zero":false},"axis":{"values":[-0.25,0,0.25],"format":".2f","title":"Differential Binding Score"}},
      "y":{"field":"y","type":"quantitative","scale":{"domain":[-12.5,220],"nice":false,"zero":false},"axis":{"title":"-log10(pvalue)","values":[0,50,100,150,200],"labelColor":"#4d4d4d","labelFontSize":8,"titleFontSize":9,"titleFontWeight":"normal","titleColor":"#000000","titleX":-20,"titleBaseline":"middle","domainColor":"#000000","domainWidth":1.2,"tickColor":"#333333","tickSize":3,"tickWidth":0.8,"labelPadding":1,"labelFlush":false}}}},
    {"transform":[{"filter":"datum.g!=='ns'"}],"mark":{"type":"circle","size":9,"opacity":1},"encoding":{"x":{"field":"x","type":"quantitative"},"y":{"field":"y","type":"quantitative"},"color":{"field":"g","type":"nominal","scale":{"domain":["blue","black","orange"],"range":["#3333ee","#000000","#f7941d"]},"legend":null}}},
    {"transform":[{"filter":"datum.g!=='ns'"}],"mark":{"type":"text","fontSize":8.5,"color":"#000000"},"encoding":{"x":{"field":"lx","type":"quantitative"},"y":{"field":"ly","type":"quantitative"},"text":{"field":"lab"}}}
   ]}
 ],
 "spacing":14.5,"bounds":"flush"
}
],
"spacing":-29
}
